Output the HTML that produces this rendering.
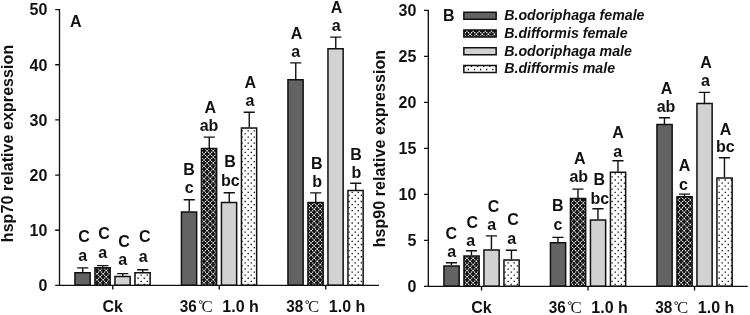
<!DOCTYPE html>
<html><head><meta charset="utf-8"><title>chart</title>
<style>html,body{margin:0;padding:0;background:#fff;}body{width:750px;height:315px;overflow:hidden;}svg{display:block;will-change:transform;}text{font-family:"Liberation Sans",sans-serif;font-weight:bold;font-size:16px;fill:#111;stroke:#111;stroke-width:0;}.lg{font-style:italic;font-size:14.2px;}.deg{font-family:"Liberation Serif",serif;font-weight:normal;font-size:16.8px;stroke-width:0;}</style></head><body>
<svg width="750" height="315" viewBox="0 0 750 315">
<defs>
<clipPath id="cx">
<rect x="94.95" y="267.70" width="15.20" height="17.50"/>
<rect x="201.45" y="148.50" width="15.20" height="136.70"/>
<rect x="307.95" y="202.50" width="15.20" height="82.70"/>
<rect x="463.95" y="256.10" width="15.20" height="30.10"/>
<rect x="570.45" y="198.40" width="15.20" height="87.80"/>
<rect x="676.95" y="196.70" width="15.20" height="89.50"/>
<rect x="463.85" y="29.90" width="32.30" height="7.20"/>
</clipPath>
<clipPath id="cd">
<rect x="134.95" y="272.70" width="15.20" height="12.50"/>
<rect x="241.45" y="128.00" width="15.20" height="157.20"/>
<rect x="347.95" y="190.50" width="15.20" height="94.70"/>
<rect x="503.95" y="260.10" width="15.20" height="26.10"/>
<rect x="610.45" y="172.20" width="15.20" height="114.00"/>
<rect x="716.95" y="178.00" width="15.20" height="108.20"/>
<rect x="463.85" y="65.40" width="32.30" height="7.20"/>
</clipPath>
</defs>
<path d="M82.75 272.20V267.90M77.15 267.90H88.35M102.75 267.20V265.60M97.15 265.60H108.35M122.75 276.00V273.60M117.15 273.60H128.35M142.75 272.20V269.70M137.15 269.70H148.35M189.25 211.50V199.70M183.65 199.70H194.85M209.25 148.00V137.10M203.65 137.10H214.85M229.25 202.00V192.80M223.65 192.80H234.85M249.25 127.50V112.30M243.65 112.30H254.85M295.75 79.30V62.90M290.15 62.90H301.35M315.75 202.00V192.90M310.15 192.90H321.35M335.75 48.20V37.10M330.15 37.10H341.35M355.75 190.00V183.30M350.15 183.30H361.35M451.45 265.50V262.80M445.85 262.80H457.05M471.45 255.60V250.80M465.85 250.80H477.05M491.45 249.50V235.90M485.85 235.90H497.05M511.45 259.60V250.30M505.85 250.30H517.05M557.95 242.20V237.40M552.35 237.40H563.55M577.95 197.90V189.10M572.35 189.10H583.55M597.95 219.50V208.80M592.35 208.80H603.55M617.95 171.70V160.80M612.35 160.80H623.55M664.45 124.10V117.70M658.85 117.70H670.05M684.45 196.20V194.10M678.85 194.10H690.05M704.45 103.10V92.40M698.85 92.40H710.05M724.45 177.50V157.70M718.85 157.70H730.05" stroke="#111" stroke-width="1.4" fill="none"/>
<rect x="74.95" y="272.70" width="15.20" height="12.50" fill="#636363"/>
<rect x="114.95" y="276.50" width="15.20" height="8.70" fill="#d2d2d2"/>
<rect x="181.45" y="212.00" width="15.20" height="73.20" fill="#636363"/>
<rect x="221.45" y="202.50" width="15.20" height="82.70" fill="#d2d2d2"/>
<rect x="287.95" y="79.80" width="15.20" height="205.40" fill="#636363"/>
<rect x="327.95" y="48.70" width="15.20" height="236.50" fill="#d2d2d2"/>
<rect x="443.95" y="266.00" width="15.20" height="20.20" fill="#636363"/>
<rect x="483.95" y="250.00" width="15.20" height="36.20" fill="#d2d2d2"/>
<rect x="550.45" y="242.70" width="15.20" height="43.50" fill="#636363"/>
<rect x="590.45" y="220.00" width="15.20" height="66.20" fill="#d2d2d2"/>
<rect x="656.95" y="124.60" width="15.20" height="161.60" fill="#636363"/>
<rect x="696.95" y="103.60" width="15.20" height="182.60" fill="#d2d2d2"/>
<rect x="463.85" y="12.15" width="32.30" height="7.20" fill="#636363"/>
<rect x="463.85" y="47.65" width="32.30" height="7.20" fill="#d2d2d2"/>
<g clip-path="url(#cx)">
<rect x="440" y="0" width="310" height="315" fill="#161616"/><rect x="60" y="100" width="330" height="200" fill="#161616"/>
<path fill="#fff" d="M88.82 262.38h1.05v1.05h-1.05zM88.82 265.45h1.05v1.05h-1.05zM88.82 268.52h1.05v1.05h-1.05zM88.82 271.59h1.05v1.05h-1.05zM88.82 274.66h1.05v1.05h-1.05zM88.82 277.73h1.05v1.05h-1.05zM88.82 280.8h1.05v1.05h-1.05zM88.82 283.87h1.05v1.05h-1.05zM88.82 286.94h1.05v1.05h-1.05zM88.82 290h1.05v1.05h-1.05zM91.88 262.38h1.05v1.05h-1.05zM91.88 265.45h1.05v1.05h-1.05zM91.88 268.52h1.05v1.05h-1.05zM91.88 271.59h1.05v1.05h-1.05zM91.88 274.66h1.05v1.05h-1.05zM91.88 277.73h1.05v1.05h-1.05zM91.88 280.8h1.05v1.05h-1.05zM91.88 283.87h1.05v1.05h-1.05zM91.88 286.94h1.05v1.05h-1.05zM91.88 290h1.05v1.05h-1.05zM94.94 262.38h1.05v1.05h-1.05zM94.94 265.45h1.05v1.05h-1.05zM94.94 268.52h1.05v1.05h-1.05zM94.94 271.59h1.05v1.05h-1.05zM94.94 274.66h1.05v1.05h-1.05zM94.94 277.73h1.05v1.05h-1.05zM94.94 280.8h1.05v1.05h-1.05zM94.94 283.87h1.05v1.05h-1.05zM94.94 286.94h1.05v1.05h-1.05zM94.94 290h1.05v1.05h-1.05zM98 262.38h1.05v1.05h-1.05zM98 265.45h1.05v1.05h-1.05zM98 268.52h1.05v1.05h-1.05zM98 271.59h1.05v1.05h-1.05zM98 274.66h1.05v1.05h-1.05zM98 277.73h1.05v1.05h-1.05zM98 280.8h1.05v1.05h-1.05zM98 283.87h1.05v1.05h-1.05zM98 286.94h1.05v1.05h-1.05zM98 290h1.05v1.05h-1.05zM101.06 262.38h1.05v1.05h-1.05zM101.06 265.45h1.05v1.05h-1.05zM101.06 268.52h1.05v1.05h-1.05zM101.06 271.59h1.05v1.05h-1.05zM101.06 274.66h1.05v1.05h-1.05zM101.06 277.73h1.05v1.05h-1.05zM101.06 280.8h1.05v1.05h-1.05zM101.06 283.87h1.05v1.05h-1.05zM101.06 286.94h1.05v1.05h-1.05zM101.06 290h1.05v1.05h-1.05zM104.11 262.38h1.05v1.05h-1.05zM104.11 265.45h1.05v1.05h-1.05zM104.11 268.52h1.05v1.05h-1.05zM104.11 271.59h1.05v1.05h-1.05zM104.11 274.66h1.05v1.05h-1.05zM104.11 277.73h1.05v1.05h-1.05zM104.11 280.8h1.05v1.05h-1.05zM104.11 283.87h1.05v1.05h-1.05zM104.11 286.94h1.05v1.05h-1.05zM104.11 290h1.05v1.05h-1.05zM107.17 262.38h1.05v1.05h-1.05zM107.17 265.45h1.05v1.05h-1.05zM107.17 268.52h1.05v1.05h-1.05zM107.17 271.59h1.05v1.05h-1.05zM107.17 274.66h1.05v1.05h-1.05zM107.17 277.73h1.05v1.05h-1.05zM107.17 280.8h1.05v1.05h-1.05zM107.17 283.87h1.05v1.05h-1.05zM107.17 286.94h1.05v1.05h-1.05zM107.17 290h1.05v1.05h-1.05zM110.23 262.38h1.05v1.05h-1.05zM110.23 265.45h1.05v1.05h-1.05zM110.23 268.52h1.05v1.05h-1.05zM110.23 271.59h1.05v1.05h-1.05zM110.23 274.66h1.05v1.05h-1.05zM110.23 277.73h1.05v1.05h-1.05zM110.23 280.8h1.05v1.05h-1.05zM110.23 283.87h1.05v1.05h-1.05zM110.23 286.94h1.05v1.05h-1.05zM110.23 290h1.05v1.05h-1.05zM113.29 262.38h1.05v1.05h-1.05zM113.29 265.45h1.05v1.05h-1.05zM113.29 268.52h1.05v1.05h-1.05zM113.29 271.59h1.05v1.05h-1.05zM113.29 274.66h1.05v1.05h-1.05zM113.29 277.73h1.05v1.05h-1.05zM113.29 280.8h1.05v1.05h-1.05zM113.29 283.87h1.05v1.05h-1.05zM113.29 286.94h1.05v1.05h-1.05zM113.29 290h1.05v1.05h-1.05zM195.85 142.64h1.05v1.05h-1.05zM195.85 145.72h1.05v1.05h-1.05zM195.85 148.78h1.05v1.05h-1.05zM195.85 151.85h1.05v1.05h-1.05zM195.85 154.92h1.05v1.05h-1.05zM195.85 158h1.05v1.05h-1.05zM195.85 161.06h1.05v1.05h-1.05zM195.85 164.13h1.05v1.05h-1.05zM195.85 167.2h1.05v1.05h-1.05zM195.85 170.28h1.05v1.05h-1.05zM195.85 173.34h1.05v1.05h-1.05zM195.85 176.41h1.05v1.05h-1.05zM195.85 179.48h1.05v1.05h-1.05zM195.85 182.56h1.05v1.05h-1.05zM195.85 185.62h1.05v1.05h-1.05zM195.85 188.69h1.05v1.05h-1.05zM195.85 191.76h1.05v1.05h-1.05zM195.85 194.84h1.05v1.05h-1.05zM195.85 197.91h1.05v1.05h-1.05zM195.85 200.97h1.05v1.05h-1.05zM195.85 204.04h1.05v1.05h-1.05zM195.85 207.11h1.05v1.05h-1.05zM195.85 210.19h1.05v1.05h-1.05zM195.85 213.25h1.05v1.05h-1.05zM195.85 216.32h1.05v1.05h-1.05zM195.85 219.39h1.05v1.05h-1.05zM195.85 222.47h1.05v1.05h-1.05zM195.85 225.53h1.05v1.05h-1.05zM195.85 228.6h1.05v1.05h-1.05zM195.85 231.67h1.05v1.05h-1.05zM195.85 234.75h1.05v1.05h-1.05zM195.85 237.81h1.05v1.05h-1.05zM195.85 240.88h1.05v1.05h-1.05zM195.85 243.95h1.05v1.05h-1.05zM195.85 247.03h1.05v1.05h-1.05zM195.85 250.09h1.05v1.05h-1.05zM195.85 253.16h1.05v1.05h-1.05zM195.85 256.24h1.05v1.05h-1.05zM195.85 259.31h1.05v1.05h-1.05zM195.85 262.38h1.05v1.05h-1.05zM195.85 265.45h1.05v1.05h-1.05zM195.85 268.52h1.05v1.05h-1.05zM195.85 271.59h1.05v1.05h-1.05zM195.85 274.66h1.05v1.05h-1.05zM195.85 277.73h1.05v1.05h-1.05zM195.85 280.8h1.05v1.05h-1.05zM195.85 283.87h1.05v1.05h-1.05zM195.85 286.94h1.05v1.05h-1.05zM195.85 290h1.05v1.05h-1.05zM198.91 142.64h1.05v1.05h-1.05zM198.91 145.72h1.05v1.05h-1.05zM198.91 148.78h1.05v1.05h-1.05zM198.91 151.85h1.05v1.05h-1.05zM198.91 154.92h1.05v1.05h-1.05zM198.91 158h1.05v1.05h-1.05zM198.91 161.06h1.05v1.05h-1.05zM198.91 164.13h1.05v1.05h-1.05zM198.91 167.2h1.05v1.05h-1.05zM198.91 170.28h1.05v1.05h-1.05zM198.91 173.34h1.05v1.05h-1.05zM198.91 176.41h1.05v1.05h-1.05zM198.91 179.48h1.05v1.05h-1.05zM198.91 182.56h1.05v1.05h-1.05zM198.91 185.62h1.05v1.05h-1.05zM198.91 188.69h1.05v1.05h-1.05zM198.91 191.76h1.05v1.05h-1.05zM198.91 194.84h1.05v1.05h-1.05zM198.91 197.91h1.05v1.05h-1.05zM198.91 200.97h1.05v1.05h-1.05zM198.91 204.04h1.05v1.05h-1.05zM198.91 207.11h1.05v1.05h-1.05zM198.91 210.19h1.05v1.05h-1.05zM198.91 213.25h1.05v1.05h-1.05zM198.91 216.32h1.05v1.05h-1.05zM198.91 219.39h1.05v1.05h-1.05zM198.91 222.47h1.05v1.05h-1.05zM198.91 225.53h1.05v1.05h-1.05zM198.91 228.6h1.05v1.05h-1.05zM198.91 231.67h1.05v1.05h-1.05zM198.91 234.75h1.05v1.05h-1.05zM198.91 237.81h1.05v1.05h-1.05zM198.91 240.88h1.05v1.05h-1.05zM198.91 243.95h1.05v1.05h-1.05zM198.91 247.03h1.05v1.05h-1.05zM198.91 250.09h1.05v1.05h-1.05zM198.91 253.16h1.05v1.05h-1.05zM198.91 256.24h1.05v1.05h-1.05zM198.91 259.31h1.05v1.05h-1.05zM198.91 262.38h1.05v1.05h-1.05zM198.91 265.45h1.05v1.05h-1.05zM198.91 268.52h1.05v1.05h-1.05zM198.91 271.59h1.05v1.05h-1.05zM198.91 274.66h1.05v1.05h-1.05zM198.91 277.73h1.05v1.05h-1.05zM198.91 280.8h1.05v1.05h-1.05zM198.91 283.87h1.05v1.05h-1.05zM198.91 286.94h1.05v1.05h-1.05zM198.91 290h1.05v1.05h-1.05zM201.97 142.64h1.05v1.05h-1.05zM201.97 145.72h1.05v1.05h-1.05zM201.97 148.78h1.05v1.05h-1.05zM201.97 151.85h1.05v1.05h-1.05zM201.97 154.92h1.05v1.05h-1.05zM201.97 158h1.05v1.05h-1.05zM201.97 161.06h1.05v1.05h-1.05zM201.97 164.13h1.05v1.05h-1.05zM201.97 167.2h1.05v1.05h-1.05zM201.97 170.28h1.05v1.05h-1.05zM201.97 173.34h1.05v1.05h-1.05zM201.97 176.41h1.05v1.05h-1.05zM201.97 179.48h1.05v1.05h-1.05zM201.97 182.56h1.05v1.05h-1.05zM201.97 185.62h1.05v1.05h-1.05zM201.97 188.69h1.05v1.05h-1.05zM201.97 191.76h1.05v1.05h-1.05zM201.97 194.84h1.05v1.05h-1.05zM201.97 197.91h1.05v1.05h-1.05zM201.97 200.97h1.05v1.05h-1.05zM201.97 204.04h1.05v1.05h-1.05zM201.97 207.11h1.05v1.05h-1.05zM201.97 210.19h1.05v1.05h-1.05zM201.97 213.25h1.05v1.05h-1.05zM201.97 216.32h1.05v1.05h-1.05zM201.97 219.39h1.05v1.05h-1.05zM201.97 222.47h1.05v1.05h-1.05zM201.97 225.53h1.05v1.05h-1.05zM201.97 228.6h1.05v1.05h-1.05zM201.97 231.67h1.05v1.05h-1.05zM201.97 234.75h1.05v1.05h-1.05zM201.97 237.81h1.05v1.05h-1.05zM201.97 240.88h1.05v1.05h-1.05zM201.97 243.95h1.05v1.05h-1.05zM201.97 247.03h1.05v1.05h-1.05zM201.97 250.09h1.05v1.05h-1.05zM201.97 253.16h1.05v1.05h-1.05zM201.97 256.24h1.05v1.05h-1.05zM201.97 259.31h1.05v1.05h-1.05zM201.97 262.38h1.05v1.05h-1.05zM201.97 265.45h1.05v1.05h-1.05zM201.97 268.52h1.05v1.05h-1.05zM201.97 271.59h1.05v1.05h-1.05zM201.97 274.66h1.05v1.05h-1.05zM201.97 277.73h1.05v1.05h-1.05zM201.97 280.8h1.05v1.05h-1.05zM201.97 283.87h1.05v1.05h-1.05zM201.97 286.94h1.05v1.05h-1.05zM201.97 290h1.05v1.05h-1.05zM205.03 142.64h1.05v1.05h-1.05zM205.03 145.72h1.05v1.05h-1.05zM205.03 148.78h1.05v1.05h-1.05zM205.03 151.85h1.05v1.05h-1.05zM205.03 154.92h1.05v1.05h-1.05zM205.03 158h1.05v1.05h-1.05zM205.03 161.06h1.05v1.05h-1.05zM205.03 164.13h1.05v1.05h-1.05zM205.03 167.2h1.05v1.05h-1.05zM205.03 170.28h1.05v1.05h-1.05zM205.03 173.34h1.05v1.05h-1.05zM205.03 176.41h1.05v1.05h-1.05zM205.03 179.48h1.05v1.05h-1.05zM205.03 182.56h1.05v1.05h-1.05zM205.03 185.62h1.05v1.05h-1.05zM205.03 188.69h1.05v1.05h-1.05zM205.03 191.76h1.05v1.05h-1.05zM205.03 194.84h1.05v1.05h-1.05zM205.03 197.91h1.05v1.05h-1.05zM205.03 200.97h1.05v1.05h-1.05zM205.03 204.04h1.05v1.05h-1.05zM205.03 207.11h1.05v1.05h-1.05zM205.03 210.19h1.05v1.05h-1.05zM205.03 213.25h1.05v1.05h-1.05zM205.03 216.32h1.05v1.05h-1.05zM205.03 219.39h1.05v1.05h-1.05zM205.03 222.47h1.05v1.05h-1.05zM205.03 225.53h1.05v1.05h-1.05zM205.03 228.6h1.05v1.05h-1.05zM205.03 231.67h1.05v1.05h-1.05zM205.03 234.75h1.05v1.05h-1.05zM205.03 237.81h1.05v1.05h-1.05zM205.03 240.88h1.05v1.05h-1.05zM205.03 243.95h1.05v1.05h-1.05zM205.03 247.03h1.05v1.05h-1.05zM205.03 250.09h1.05v1.05h-1.05zM205.03 253.16h1.05v1.05h-1.05zM205.03 256.24h1.05v1.05h-1.05zM205.03 259.31h1.05v1.05h-1.05zM205.03 262.38h1.05v1.05h-1.05zM205.03 265.45h1.05v1.05h-1.05zM205.03 268.52h1.05v1.05h-1.05zM205.03 271.59h1.05v1.05h-1.05zM205.03 274.66h1.05v1.05h-1.05zM205.03 277.73h1.05v1.05h-1.05zM205.03 280.8h1.05v1.05h-1.05zM205.03 283.87h1.05v1.05h-1.05zM205.03 286.94h1.05v1.05h-1.05zM205.03 290h1.05v1.05h-1.05zM208.09 142.64h1.05v1.05h-1.05zM208.09 145.72h1.05v1.05h-1.05zM208.09 148.78h1.05v1.05h-1.05zM208.09 151.85h1.05v1.05h-1.05zM208.09 154.92h1.05v1.05h-1.05zM208.09 158h1.05v1.05h-1.05zM208.09 161.06h1.05v1.05h-1.05zM208.09 164.13h1.05v1.05h-1.05zM208.09 167.2h1.05v1.05h-1.05zM208.09 170.28h1.05v1.05h-1.05zM208.09 173.34h1.05v1.05h-1.05zM208.09 176.41h1.05v1.05h-1.05zM208.09 179.48h1.05v1.05h-1.05zM208.09 182.56h1.05v1.05h-1.05zM208.09 185.62h1.05v1.05h-1.05zM208.09 188.69h1.05v1.05h-1.05zM208.09 191.76h1.05v1.05h-1.05zM208.09 194.84h1.05v1.05h-1.05zM208.09 197.91h1.05v1.05h-1.05zM208.09 200.97h1.05v1.05h-1.05zM208.09 204.04h1.05v1.05h-1.05zM208.09 207.11h1.05v1.05h-1.05zM208.09 210.19h1.05v1.05h-1.05zM208.09 213.25h1.05v1.05h-1.05zM208.09 216.32h1.05v1.05h-1.05zM208.09 219.39h1.05v1.05h-1.05zM208.09 222.47h1.05v1.05h-1.05zM208.09 225.53h1.05v1.05h-1.05zM208.09 228.6h1.05v1.05h-1.05zM208.09 231.67h1.05v1.05h-1.05zM208.09 234.75h1.05v1.05h-1.05zM208.09 237.81h1.05v1.05h-1.05zM208.09 240.88h1.05v1.05h-1.05zM208.09 243.95h1.05v1.05h-1.05zM208.09 247.03h1.05v1.05h-1.05zM208.09 250.09h1.05v1.05h-1.05zM208.09 253.16h1.05v1.05h-1.05zM208.09 256.24h1.05v1.05h-1.05zM208.09 259.31h1.05v1.05h-1.05zM208.09 262.38h1.05v1.05h-1.05zM208.09 265.45h1.05v1.05h-1.05zM208.09 268.52h1.05v1.05h-1.05zM208.09 271.59h1.05v1.05h-1.05zM208.09 274.66h1.05v1.05h-1.05zM208.09 277.73h1.05v1.05h-1.05zM208.09 280.8h1.05v1.05h-1.05zM208.09 283.87h1.05v1.05h-1.05zM208.09 286.94h1.05v1.05h-1.05zM208.09 290h1.05v1.05h-1.05zM211.14 142.64h1.05v1.05h-1.05zM211.14 145.72h1.05v1.05h-1.05zM211.14 148.78h1.05v1.05h-1.05zM211.14 151.85h1.05v1.05h-1.05zM211.14 154.92h1.05v1.05h-1.05zM211.14 158h1.05v1.05h-1.05zM211.14 161.06h1.05v1.05h-1.05zM211.14 164.13h1.05v1.05h-1.05zM211.14 167.2h1.05v1.05h-1.05zM211.14 170.28h1.05v1.05h-1.05zM211.14 173.34h1.05v1.05h-1.05zM211.14 176.41h1.05v1.05h-1.05zM211.14 179.48h1.05v1.05h-1.05zM211.14 182.56h1.05v1.05h-1.05zM211.14 185.62h1.05v1.05h-1.05zM211.14 188.69h1.05v1.05h-1.05zM211.14 191.76h1.05v1.05h-1.05zM211.14 194.84h1.05v1.05h-1.05zM211.14 197.91h1.05v1.05h-1.05zM211.14 200.97h1.05v1.05h-1.05zM211.14 204.04h1.05v1.05h-1.05zM211.14 207.11h1.05v1.05h-1.05zM211.14 210.19h1.05v1.05h-1.05zM211.14 213.25h1.05v1.05h-1.05zM211.14 216.32h1.05v1.05h-1.05zM211.14 219.39h1.05v1.05h-1.05zM211.14 222.47h1.05v1.05h-1.05zM211.14 225.53h1.05v1.05h-1.05zM211.14 228.6h1.05v1.05h-1.05zM211.14 231.67h1.05v1.05h-1.05zM211.14 234.75h1.05v1.05h-1.05zM211.14 237.81h1.05v1.05h-1.05zM211.14 240.88h1.05v1.05h-1.05zM211.14 243.95h1.05v1.05h-1.05zM211.14 247.03h1.05v1.05h-1.05zM211.14 250.09h1.05v1.05h-1.05zM211.14 253.16h1.05v1.05h-1.05zM211.14 256.24h1.05v1.05h-1.05zM211.14 259.31h1.05v1.05h-1.05zM211.14 262.38h1.05v1.05h-1.05zM211.14 265.45h1.05v1.05h-1.05zM211.14 268.52h1.05v1.05h-1.05zM211.14 271.59h1.05v1.05h-1.05zM211.14 274.66h1.05v1.05h-1.05zM211.14 277.73h1.05v1.05h-1.05zM211.14 280.8h1.05v1.05h-1.05zM211.14 283.87h1.05v1.05h-1.05zM211.14 286.94h1.05v1.05h-1.05zM211.14 290h1.05v1.05h-1.05zM214.2 142.64h1.05v1.05h-1.05zM214.2 145.72h1.05v1.05h-1.05zM214.2 148.78h1.05v1.05h-1.05zM214.2 151.85h1.05v1.05h-1.05zM214.2 154.92h1.05v1.05h-1.05zM214.2 158h1.05v1.05h-1.05zM214.2 161.06h1.05v1.05h-1.05zM214.2 164.13h1.05v1.05h-1.05zM214.2 167.2h1.05v1.05h-1.05zM214.2 170.28h1.05v1.05h-1.05zM214.2 173.34h1.05v1.05h-1.05zM214.2 176.41h1.05v1.05h-1.05zM214.2 179.48h1.05v1.05h-1.05zM214.2 182.56h1.05v1.05h-1.05zM214.2 185.62h1.05v1.05h-1.05zM214.2 188.69h1.05v1.05h-1.05zM214.2 191.76h1.05v1.05h-1.05zM214.2 194.84h1.05v1.05h-1.05zM214.2 197.91h1.05v1.05h-1.05zM214.2 200.97h1.05v1.05h-1.05zM214.2 204.04h1.05v1.05h-1.05zM214.2 207.11h1.05v1.05h-1.05zM214.2 210.19h1.05v1.05h-1.05zM214.2 213.25h1.05v1.05h-1.05zM214.2 216.32h1.05v1.05h-1.05zM214.2 219.39h1.05v1.05h-1.05zM214.2 222.47h1.05v1.05h-1.05zM214.2 225.53h1.05v1.05h-1.05zM214.2 228.6h1.05v1.05h-1.05zM214.2 231.67h1.05v1.05h-1.05zM214.2 234.75h1.05v1.05h-1.05zM214.2 237.81h1.05v1.05h-1.05zM214.2 240.88h1.05v1.05h-1.05zM214.2 243.95h1.05v1.05h-1.05zM214.2 247.03h1.05v1.05h-1.05zM214.2 250.09h1.05v1.05h-1.05zM214.2 253.16h1.05v1.05h-1.05zM214.2 256.24h1.05v1.05h-1.05zM214.2 259.31h1.05v1.05h-1.05zM214.2 262.38h1.05v1.05h-1.05zM214.2 265.45h1.05v1.05h-1.05zM214.2 268.52h1.05v1.05h-1.05zM214.2 271.59h1.05v1.05h-1.05zM214.2 274.66h1.05v1.05h-1.05zM214.2 277.73h1.05v1.05h-1.05zM214.2 280.8h1.05v1.05h-1.05zM214.2 283.87h1.05v1.05h-1.05zM214.2 286.94h1.05v1.05h-1.05zM214.2 290h1.05v1.05h-1.05zM217.26 142.64h1.05v1.05h-1.05zM217.26 145.72h1.05v1.05h-1.05zM217.26 148.78h1.05v1.05h-1.05zM217.26 151.85h1.05v1.05h-1.05zM217.26 154.92h1.05v1.05h-1.05zM217.26 158h1.05v1.05h-1.05zM217.26 161.06h1.05v1.05h-1.05zM217.26 164.13h1.05v1.05h-1.05zM217.26 167.2h1.05v1.05h-1.05zM217.26 170.28h1.05v1.05h-1.05zM217.26 173.34h1.05v1.05h-1.05zM217.26 176.41h1.05v1.05h-1.05zM217.26 179.48h1.05v1.05h-1.05zM217.26 182.56h1.05v1.05h-1.05zM217.26 185.62h1.05v1.05h-1.05zM217.26 188.69h1.05v1.05h-1.05zM217.26 191.76h1.05v1.05h-1.05zM217.26 194.84h1.05v1.05h-1.05zM217.26 197.91h1.05v1.05h-1.05zM217.26 200.97h1.05v1.05h-1.05zM217.26 204.04h1.05v1.05h-1.05zM217.26 207.11h1.05v1.05h-1.05zM217.26 210.19h1.05v1.05h-1.05zM217.26 213.25h1.05v1.05h-1.05zM217.26 216.32h1.05v1.05h-1.05zM217.26 219.39h1.05v1.05h-1.05zM217.26 222.47h1.05v1.05h-1.05zM217.26 225.53h1.05v1.05h-1.05zM217.26 228.6h1.05v1.05h-1.05zM217.26 231.67h1.05v1.05h-1.05zM217.26 234.75h1.05v1.05h-1.05zM217.26 237.81h1.05v1.05h-1.05zM217.26 240.88h1.05v1.05h-1.05zM217.26 243.95h1.05v1.05h-1.05zM217.26 247.03h1.05v1.05h-1.05zM217.26 250.09h1.05v1.05h-1.05zM217.26 253.16h1.05v1.05h-1.05zM217.26 256.24h1.05v1.05h-1.05zM217.26 259.31h1.05v1.05h-1.05zM217.26 262.38h1.05v1.05h-1.05zM217.26 265.45h1.05v1.05h-1.05zM217.26 268.52h1.05v1.05h-1.05zM217.26 271.59h1.05v1.05h-1.05zM217.26 274.66h1.05v1.05h-1.05zM217.26 277.73h1.05v1.05h-1.05zM217.26 280.8h1.05v1.05h-1.05zM217.26 283.87h1.05v1.05h-1.05zM217.26 286.94h1.05v1.05h-1.05zM217.26 290h1.05v1.05h-1.05zM220.32 142.64h1.05v1.05h-1.05zM220.32 145.72h1.05v1.05h-1.05zM220.32 148.78h1.05v1.05h-1.05zM220.32 151.85h1.05v1.05h-1.05zM220.32 154.92h1.05v1.05h-1.05zM220.32 158h1.05v1.05h-1.05zM220.32 161.06h1.05v1.05h-1.05zM220.32 164.13h1.05v1.05h-1.05zM220.32 167.2h1.05v1.05h-1.05zM220.32 170.28h1.05v1.05h-1.05zM220.32 173.34h1.05v1.05h-1.05zM220.32 176.41h1.05v1.05h-1.05zM220.32 179.48h1.05v1.05h-1.05zM220.32 182.56h1.05v1.05h-1.05zM220.32 185.62h1.05v1.05h-1.05zM220.32 188.69h1.05v1.05h-1.05zM220.32 191.76h1.05v1.05h-1.05zM220.32 194.84h1.05v1.05h-1.05zM220.32 197.91h1.05v1.05h-1.05zM220.32 200.97h1.05v1.05h-1.05zM220.32 204.04h1.05v1.05h-1.05zM220.32 207.11h1.05v1.05h-1.05zM220.32 210.19h1.05v1.05h-1.05zM220.32 213.25h1.05v1.05h-1.05zM220.32 216.32h1.05v1.05h-1.05zM220.32 219.39h1.05v1.05h-1.05zM220.32 222.47h1.05v1.05h-1.05zM220.32 225.53h1.05v1.05h-1.05zM220.32 228.6h1.05v1.05h-1.05zM220.32 231.67h1.05v1.05h-1.05zM220.32 234.75h1.05v1.05h-1.05zM220.32 237.81h1.05v1.05h-1.05zM220.32 240.88h1.05v1.05h-1.05zM220.32 243.95h1.05v1.05h-1.05zM220.32 247.03h1.05v1.05h-1.05zM220.32 250.09h1.05v1.05h-1.05zM220.32 253.16h1.05v1.05h-1.05zM220.32 256.24h1.05v1.05h-1.05zM220.32 259.31h1.05v1.05h-1.05zM220.32 262.38h1.05v1.05h-1.05zM220.32 265.45h1.05v1.05h-1.05zM220.32 268.52h1.05v1.05h-1.05zM220.32 271.59h1.05v1.05h-1.05zM220.32 274.66h1.05v1.05h-1.05zM220.32 277.73h1.05v1.05h-1.05zM220.32 280.8h1.05v1.05h-1.05zM220.32 283.87h1.05v1.05h-1.05zM220.32 286.94h1.05v1.05h-1.05zM220.32 290h1.05v1.05h-1.05zM302.89 197.91h1.05v1.05h-1.05zM302.89 200.97h1.05v1.05h-1.05zM302.89 204.04h1.05v1.05h-1.05zM302.89 207.11h1.05v1.05h-1.05zM302.89 210.19h1.05v1.05h-1.05zM302.89 213.25h1.05v1.05h-1.05zM302.89 216.32h1.05v1.05h-1.05zM302.89 219.39h1.05v1.05h-1.05zM302.89 222.47h1.05v1.05h-1.05zM302.89 225.53h1.05v1.05h-1.05zM302.89 228.6h1.05v1.05h-1.05zM302.89 231.67h1.05v1.05h-1.05zM302.89 234.75h1.05v1.05h-1.05zM302.89 237.81h1.05v1.05h-1.05zM302.89 240.88h1.05v1.05h-1.05zM302.89 243.95h1.05v1.05h-1.05zM302.89 247.03h1.05v1.05h-1.05zM302.89 250.09h1.05v1.05h-1.05zM302.89 253.16h1.05v1.05h-1.05zM302.89 256.24h1.05v1.05h-1.05zM302.89 259.31h1.05v1.05h-1.05zM302.89 262.38h1.05v1.05h-1.05zM302.89 265.45h1.05v1.05h-1.05zM302.89 268.52h1.05v1.05h-1.05zM302.89 271.59h1.05v1.05h-1.05zM302.89 274.66h1.05v1.05h-1.05zM302.89 277.73h1.05v1.05h-1.05zM302.89 280.8h1.05v1.05h-1.05zM302.89 283.87h1.05v1.05h-1.05zM302.89 286.94h1.05v1.05h-1.05zM302.89 290h1.05v1.05h-1.05zM305.95 197.91h1.05v1.05h-1.05zM305.95 200.97h1.05v1.05h-1.05zM305.95 204.04h1.05v1.05h-1.05zM305.95 207.11h1.05v1.05h-1.05zM305.95 210.19h1.05v1.05h-1.05zM305.95 213.25h1.05v1.05h-1.05zM305.95 216.32h1.05v1.05h-1.05zM305.95 219.39h1.05v1.05h-1.05zM305.95 222.47h1.05v1.05h-1.05zM305.95 225.53h1.05v1.05h-1.05zM305.95 228.6h1.05v1.05h-1.05zM305.95 231.67h1.05v1.05h-1.05zM305.95 234.75h1.05v1.05h-1.05zM305.95 237.81h1.05v1.05h-1.05zM305.95 240.88h1.05v1.05h-1.05zM305.95 243.95h1.05v1.05h-1.05zM305.95 247.03h1.05v1.05h-1.05zM305.95 250.09h1.05v1.05h-1.05zM305.95 253.16h1.05v1.05h-1.05zM305.95 256.24h1.05v1.05h-1.05zM305.95 259.31h1.05v1.05h-1.05zM305.95 262.38h1.05v1.05h-1.05zM305.95 265.45h1.05v1.05h-1.05zM305.95 268.52h1.05v1.05h-1.05zM305.95 271.59h1.05v1.05h-1.05zM305.95 274.66h1.05v1.05h-1.05zM305.95 277.73h1.05v1.05h-1.05zM305.95 280.8h1.05v1.05h-1.05zM305.95 283.87h1.05v1.05h-1.05zM305.95 286.94h1.05v1.05h-1.05zM305.95 290h1.05v1.05h-1.05zM309 197.91h1.05v1.05h-1.05zM309 200.97h1.05v1.05h-1.05zM309 204.04h1.05v1.05h-1.05zM309 207.11h1.05v1.05h-1.05zM309 210.19h1.05v1.05h-1.05zM309 213.25h1.05v1.05h-1.05zM309 216.32h1.05v1.05h-1.05zM309 219.39h1.05v1.05h-1.05zM309 222.47h1.05v1.05h-1.05zM309 225.53h1.05v1.05h-1.05zM309 228.6h1.05v1.05h-1.05zM309 231.67h1.05v1.05h-1.05zM309 234.75h1.05v1.05h-1.05zM309 237.81h1.05v1.05h-1.05zM309 240.88h1.05v1.05h-1.05zM309 243.95h1.05v1.05h-1.05zM309 247.03h1.05v1.05h-1.05zM309 250.09h1.05v1.05h-1.05zM309 253.16h1.05v1.05h-1.05zM309 256.24h1.05v1.05h-1.05zM309 259.31h1.05v1.05h-1.05zM309 262.38h1.05v1.05h-1.05zM309 265.45h1.05v1.05h-1.05zM309 268.52h1.05v1.05h-1.05zM309 271.59h1.05v1.05h-1.05zM309 274.66h1.05v1.05h-1.05zM309 277.73h1.05v1.05h-1.05zM309 280.8h1.05v1.05h-1.05zM309 283.87h1.05v1.05h-1.05zM309 286.94h1.05v1.05h-1.05zM309 290h1.05v1.05h-1.05zM312.06 197.91h1.05v1.05h-1.05zM312.06 200.97h1.05v1.05h-1.05zM312.06 204.04h1.05v1.05h-1.05zM312.06 207.11h1.05v1.05h-1.05zM312.06 210.19h1.05v1.05h-1.05zM312.06 213.25h1.05v1.05h-1.05zM312.06 216.32h1.05v1.05h-1.05zM312.06 219.39h1.05v1.05h-1.05zM312.06 222.47h1.05v1.05h-1.05zM312.06 225.53h1.05v1.05h-1.05zM312.06 228.6h1.05v1.05h-1.05zM312.06 231.67h1.05v1.05h-1.05zM312.06 234.75h1.05v1.05h-1.05zM312.06 237.81h1.05v1.05h-1.05zM312.06 240.88h1.05v1.05h-1.05zM312.06 243.95h1.05v1.05h-1.05zM312.06 247.03h1.05v1.05h-1.05zM312.06 250.09h1.05v1.05h-1.05zM312.06 253.16h1.05v1.05h-1.05zM312.06 256.24h1.05v1.05h-1.05zM312.06 259.31h1.05v1.05h-1.05zM312.06 262.38h1.05v1.05h-1.05zM312.06 265.45h1.05v1.05h-1.05zM312.06 268.52h1.05v1.05h-1.05zM312.06 271.59h1.05v1.05h-1.05zM312.06 274.66h1.05v1.05h-1.05zM312.06 277.73h1.05v1.05h-1.05zM312.06 280.8h1.05v1.05h-1.05zM312.06 283.87h1.05v1.05h-1.05zM312.06 286.94h1.05v1.05h-1.05zM312.06 290h1.05v1.05h-1.05zM315.12 197.91h1.05v1.05h-1.05zM315.12 200.97h1.05v1.05h-1.05zM315.12 204.04h1.05v1.05h-1.05zM315.12 207.11h1.05v1.05h-1.05zM315.12 210.19h1.05v1.05h-1.05zM315.12 213.25h1.05v1.05h-1.05zM315.12 216.32h1.05v1.05h-1.05zM315.12 219.39h1.05v1.05h-1.05zM315.12 222.47h1.05v1.05h-1.05zM315.12 225.53h1.05v1.05h-1.05zM315.12 228.6h1.05v1.05h-1.05zM315.12 231.67h1.05v1.05h-1.05zM315.12 234.75h1.05v1.05h-1.05zM315.12 237.81h1.05v1.05h-1.05zM315.12 240.88h1.05v1.05h-1.05zM315.12 243.95h1.05v1.05h-1.05zM315.12 247.03h1.05v1.05h-1.05zM315.12 250.09h1.05v1.05h-1.05zM315.12 253.16h1.05v1.05h-1.05zM315.12 256.24h1.05v1.05h-1.05zM315.12 259.31h1.05v1.05h-1.05zM315.12 262.38h1.05v1.05h-1.05zM315.12 265.45h1.05v1.05h-1.05zM315.12 268.52h1.05v1.05h-1.05zM315.12 271.59h1.05v1.05h-1.05zM315.12 274.66h1.05v1.05h-1.05zM315.12 277.73h1.05v1.05h-1.05zM315.12 280.8h1.05v1.05h-1.05zM315.12 283.87h1.05v1.05h-1.05zM315.12 286.94h1.05v1.05h-1.05zM315.12 290h1.05v1.05h-1.05zM318.18 197.91h1.05v1.05h-1.05zM318.18 200.97h1.05v1.05h-1.05zM318.18 204.04h1.05v1.05h-1.05zM318.18 207.11h1.05v1.05h-1.05zM318.18 210.19h1.05v1.05h-1.05zM318.18 213.25h1.05v1.05h-1.05zM318.18 216.32h1.05v1.05h-1.05zM318.18 219.39h1.05v1.05h-1.05zM318.18 222.47h1.05v1.05h-1.05zM318.18 225.53h1.05v1.05h-1.05zM318.18 228.6h1.05v1.05h-1.05zM318.18 231.67h1.05v1.05h-1.05zM318.18 234.75h1.05v1.05h-1.05zM318.18 237.81h1.05v1.05h-1.05zM318.18 240.88h1.05v1.05h-1.05zM318.18 243.95h1.05v1.05h-1.05zM318.18 247.03h1.05v1.05h-1.05zM318.18 250.09h1.05v1.05h-1.05zM318.18 253.16h1.05v1.05h-1.05zM318.18 256.24h1.05v1.05h-1.05zM318.18 259.31h1.05v1.05h-1.05zM318.18 262.38h1.05v1.05h-1.05zM318.18 265.45h1.05v1.05h-1.05zM318.18 268.52h1.05v1.05h-1.05zM318.18 271.59h1.05v1.05h-1.05zM318.18 274.66h1.05v1.05h-1.05zM318.18 277.73h1.05v1.05h-1.05zM318.18 280.8h1.05v1.05h-1.05zM318.18 283.87h1.05v1.05h-1.05zM318.18 286.94h1.05v1.05h-1.05zM318.18 290h1.05v1.05h-1.05zM321.24 197.91h1.05v1.05h-1.05zM321.24 200.97h1.05v1.05h-1.05zM321.24 204.04h1.05v1.05h-1.05zM321.24 207.11h1.05v1.05h-1.05zM321.24 210.19h1.05v1.05h-1.05zM321.24 213.25h1.05v1.05h-1.05zM321.24 216.32h1.05v1.05h-1.05zM321.24 219.39h1.05v1.05h-1.05zM321.24 222.47h1.05v1.05h-1.05zM321.24 225.53h1.05v1.05h-1.05zM321.24 228.6h1.05v1.05h-1.05zM321.24 231.67h1.05v1.05h-1.05zM321.24 234.75h1.05v1.05h-1.05zM321.24 237.81h1.05v1.05h-1.05zM321.24 240.88h1.05v1.05h-1.05zM321.24 243.95h1.05v1.05h-1.05zM321.24 247.03h1.05v1.05h-1.05zM321.24 250.09h1.05v1.05h-1.05zM321.24 253.16h1.05v1.05h-1.05zM321.24 256.24h1.05v1.05h-1.05zM321.24 259.31h1.05v1.05h-1.05zM321.24 262.38h1.05v1.05h-1.05zM321.24 265.45h1.05v1.05h-1.05zM321.24 268.52h1.05v1.05h-1.05zM321.24 271.59h1.05v1.05h-1.05zM321.24 274.66h1.05v1.05h-1.05zM321.24 277.73h1.05v1.05h-1.05zM321.24 280.8h1.05v1.05h-1.05zM321.24 283.87h1.05v1.05h-1.05zM321.24 286.94h1.05v1.05h-1.05zM321.24 290h1.05v1.05h-1.05zM324.3 197.91h1.05v1.05h-1.05zM324.3 200.97h1.05v1.05h-1.05zM324.3 204.04h1.05v1.05h-1.05zM324.3 207.11h1.05v1.05h-1.05zM324.3 210.19h1.05v1.05h-1.05zM324.3 213.25h1.05v1.05h-1.05zM324.3 216.32h1.05v1.05h-1.05zM324.3 219.39h1.05v1.05h-1.05zM324.3 222.47h1.05v1.05h-1.05zM324.3 225.53h1.05v1.05h-1.05zM324.3 228.6h1.05v1.05h-1.05zM324.3 231.67h1.05v1.05h-1.05zM324.3 234.75h1.05v1.05h-1.05zM324.3 237.81h1.05v1.05h-1.05zM324.3 240.88h1.05v1.05h-1.05zM324.3 243.95h1.05v1.05h-1.05zM324.3 247.03h1.05v1.05h-1.05zM324.3 250.09h1.05v1.05h-1.05zM324.3 253.16h1.05v1.05h-1.05zM324.3 256.24h1.05v1.05h-1.05zM324.3 259.31h1.05v1.05h-1.05zM324.3 262.38h1.05v1.05h-1.05zM324.3 265.45h1.05v1.05h-1.05zM324.3 268.52h1.05v1.05h-1.05zM324.3 271.59h1.05v1.05h-1.05zM324.3 274.66h1.05v1.05h-1.05zM324.3 277.73h1.05v1.05h-1.05zM324.3 280.8h1.05v1.05h-1.05zM324.3 283.87h1.05v1.05h-1.05zM324.3 286.94h1.05v1.05h-1.05zM324.3 290h1.05v1.05h-1.05zM327.36 197.91h1.05v1.05h-1.05zM327.36 200.97h1.05v1.05h-1.05zM327.36 204.04h1.05v1.05h-1.05zM327.36 207.11h1.05v1.05h-1.05zM327.36 210.19h1.05v1.05h-1.05zM327.36 213.25h1.05v1.05h-1.05zM327.36 216.32h1.05v1.05h-1.05zM327.36 219.39h1.05v1.05h-1.05zM327.36 222.47h1.05v1.05h-1.05zM327.36 225.53h1.05v1.05h-1.05zM327.36 228.6h1.05v1.05h-1.05zM327.36 231.67h1.05v1.05h-1.05zM327.36 234.75h1.05v1.05h-1.05zM327.36 237.81h1.05v1.05h-1.05zM327.36 240.88h1.05v1.05h-1.05zM327.36 243.95h1.05v1.05h-1.05zM327.36 247.03h1.05v1.05h-1.05zM327.36 250.09h1.05v1.05h-1.05zM327.36 253.16h1.05v1.05h-1.05zM327.36 256.24h1.05v1.05h-1.05zM327.36 259.31h1.05v1.05h-1.05zM327.36 262.38h1.05v1.05h-1.05zM327.36 265.45h1.05v1.05h-1.05zM327.36 268.52h1.05v1.05h-1.05zM327.36 271.59h1.05v1.05h-1.05zM327.36 274.66h1.05v1.05h-1.05zM327.36 277.73h1.05v1.05h-1.05zM327.36 280.8h1.05v1.05h-1.05zM327.36 283.87h1.05v1.05h-1.05zM327.36 286.94h1.05v1.05h-1.05zM327.36 290h1.05v1.05h-1.05zM458.85 25.99h1.05v1.05h-1.05zM458.85 29.05h1.05v1.05h-1.05zM458.85 32.12h1.05v1.05h-1.05zM458.85 35.2h1.05v1.05h-1.05zM458.85 38.27h1.05v1.05h-1.05zM458.85 41.34h1.05v1.05h-1.05zM458.85 250.09h1.05v1.05h-1.05zM458.85 253.16h1.05v1.05h-1.05zM458.85 256.24h1.05v1.05h-1.05zM458.85 259.31h1.05v1.05h-1.05zM458.85 262.38h1.05v1.05h-1.05zM458.85 265.45h1.05v1.05h-1.05zM458.85 268.52h1.05v1.05h-1.05zM458.85 271.59h1.05v1.05h-1.05zM458.85 274.66h1.05v1.05h-1.05zM458.85 277.73h1.05v1.05h-1.05zM458.85 280.8h1.05v1.05h-1.05zM458.85 283.87h1.05v1.05h-1.05zM458.85 286.94h1.05v1.05h-1.05zM458.85 290h1.05v1.05h-1.05zM461.91 25.99h1.05v1.05h-1.05zM461.91 29.05h1.05v1.05h-1.05zM461.91 32.12h1.05v1.05h-1.05zM461.91 35.2h1.05v1.05h-1.05zM461.91 38.27h1.05v1.05h-1.05zM461.91 41.34h1.05v1.05h-1.05zM461.91 250.09h1.05v1.05h-1.05zM461.91 253.16h1.05v1.05h-1.05zM461.91 256.24h1.05v1.05h-1.05zM461.91 259.31h1.05v1.05h-1.05zM461.91 262.38h1.05v1.05h-1.05zM461.91 265.45h1.05v1.05h-1.05zM461.91 268.52h1.05v1.05h-1.05zM461.91 271.59h1.05v1.05h-1.05zM461.91 274.66h1.05v1.05h-1.05zM461.91 277.73h1.05v1.05h-1.05zM461.91 280.8h1.05v1.05h-1.05zM461.91 283.87h1.05v1.05h-1.05zM461.91 286.94h1.05v1.05h-1.05zM461.91 290h1.05v1.05h-1.05zM464.97 25.99h1.05v1.05h-1.05zM464.97 29.05h1.05v1.05h-1.05zM464.97 32.12h1.05v1.05h-1.05zM464.97 35.2h1.05v1.05h-1.05zM464.97 38.27h1.05v1.05h-1.05zM464.97 41.34h1.05v1.05h-1.05zM464.97 250.09h1.05v1.05h-1.05zM464.97 253.16h1.05v1.05h-1.05zM464.97 256.24h1.05v1.05h-1.05zM464.97 259.31h1.05v1.05h-1.05zM464.97 262.38h1.05v1.05h-1.05zM464.97 265.45h1.05v1.05h-1.05zM464.97 268.52h1.05v1.05h-1.05zM464.97 271.59h1.05v1.05h-1.05zM464.97 274.66h1.05v1.05h-1.05zM464.97 277.73h1.05v1.05h-1.05zM464.97 280.8h1.05v1.05h-1.05zM464.97 283.87h1.05v1.05h-1.05zM464.97 286.94h1.05v1.05h-1.05zM464.97 290h1.05v1.05h-1.05zM468.03 25.99h1.05v1.05h-1.05zM468.03 29.05h1.05v1.05h-1.05zM468.03 32.12h1.05v1.05h-1.05zM468.03 35.2h1.05v1.05h-1.05zM468.03 38.27h1.05v1.05h-1.05zM468.03 41.34h1.05v1.05h-1.05zM468.03 250.09h1.05v1.05h-1.05zM468.03 253.16h1.05v1.05h-1.05zM468.03 256.24h1.05v1.05h-1.05zM468.03 259.31h1.05v1.05h-1.05zM468.03 262.38h1.05v1.05h-1.05zM468.03 265.45h1.05v1.05h-1.05zM468.03 268.52h1.05v1.05h-1.05zM468.03 271.59h1.05v1.05h-1.05zM468.03 274.66h1.05v1.05h-1.05zM468.03 277.73h1.05v1.05h-1.05zM468.03 280.8h1.05v1.05h-1.05zM468.03 283.87h1.05v1.05h-1.05zM468.03 286.94h1.05v1.05h-1.05zM468.03 290h1.05v1.05h-1.05zM471.08 25.99h1.05v1.05h-1.05zM471.08 29.05h1.05v1.05h-1.05zM471.08 32.12h1.05v1.05h-1.05zM471.08 35.2h1.05v1.05h-1.05zM471.08 38.27h1.05v1.05h-1.05zM471.08 41.34h1.05v1.05h-1.05zM471.08 250.09h1.05v1.05h-1.05zM471.08 253.16h1.05v1.05h-1.05zM471.08 256.24h1.05v1.05h-1.05zM471.08 259.31h1.05v1.05h-1.05zM471.08 262.38h1.05v1.05h-1.05zM471.08 265.45h1.05v1.05h-1.05zM471.08 268.52h1.05v1.05h-1.05zM471.08 271.59h1.05v1.05h-1.05zM471.08 274.66h1.05v1.05h-1.05zM471.08 277.73h1.05v1.05h-1.05zM471.08 280.8h1.05v1.05h-1.05zM471.08 283.87h1.05v1.05h-1.05zM471.08 286.94h1.05v1.05h-1.05zM471.08 290h1.05v1.05h-1.05zM474.14 25.99h1.05v1.05h-1.05zM474.14 29.05h1.05v1.05h-1.05zM474.14 32.12h1.05v1.05h-1.05zM474.14 35.2h1.05v1.05h-1.05zM474.14 38.27h1.05v1.05h-1.05zM474.14 41.34h1.05v1.05h-1.05zM474.14 250.09h1.05v1.05h-1.05zM474.14 253.16h1.05v1.05h-1.05zM474.14 256.24h1.05v1.05h-1.05zM474.14 259.31h1.05v1.05h-1.05zM474.14 262.38h1.05v1.05h-1.05zM474.14 265.45h1.05v1.05h-1.05zM474.14 268.52h1.05v1.05h-1.05zM474.14 271.59h1.05v1.05h-1.05zM474.14 274.66h1.05v1.05h-1.05zM474.14 277.73h1.05v1.05h-1.05zM474.14 280.8h1.05v1.05h-1.05zM474.14 283.87h1.05v1.05h-1.05zM474.14 286.94h1.05v1.05h-1.05zM474.14 290h1.05v1.05h-1.05zM477.2 25.99h1.05v1.05h-1.05zM477.2 29.05h1.05v1.05h-1.05zM477.2 32.12h1.05v1.05h-1.05zM477.2 35.2h1.05v1.05h-1.05zM477.2 38.27h1.05v1.05h-1.05zM477.2 41.34h1.05v1.05h-1.05zM477.2 250.09h1.05v1.05h-1.05zM477.2 253.16h1.05v1.05h-1.05zM477.2 256.24h1.05v1.05h-1.05zM477.2 259.31h1.05v1.05h-1.05zM477.2 262.38h1.05v1.05h-1.05zM477.2 265.45h1.05v1.05h-1.05zM477.2 268.52h1.05v1.05h-1.05zM477.2 271.59h1.05v1.05h-1.05zM477.2 274.66h1.05v1.05h-1.05zM477.2 277.73h1.05v1.05h-1.05zM477.2 280.8h1.05v1.05h-1.05zM477.2 283.87h1.05v1.05h-1.05zM477.2 286.94h1.05v1.05h-1.05zM477.2 290h1.05v1.05h-1.05zM480.25 25.99h1.05v1.05h-1.05zM480.25 29.05h1.05v1.05h-1.05zM480.25 32.12h1.05v1.05h-1.05zM480.25 35.2h1.05v1.05h-1.05zM480.25 38.27h1.05v1.05h-1.05zM480.25 41.34h1.05v1.05h-1.05zM480.25 250.09h1.05v1.05h-1.05zM480.25 253.16h1.05v1.05h-1.05zM480.25 256.24h1.05v1.05h-1.05zM480.25 259.31h1.05v1.05h-1.05zM480.25 262.38h1.05v1.05h-1.05zM480.25 265.45h1.05v1.05h-1.05zM480.25 268.52h1.05v1.05h-1.05zM480.25 271.59h1.05v1.05h-1.05zM480.25 274.66h1.05v1.05h-1.05zM480.25 277.73h1.05v1.05h-1.05zM480.25 280.8h1.05v1.05h-1.05zM480.25 283.87h1.05v1.05h-1.05zM480.25 286.94h1.05v1.05h-1.05zM480.25 290h1.05v1.05h-1.05zM483.31 25.99h1.05v1.05h-1.05zM483.31 29.05h1.05v1.05h-1.05zM483.31 32.12h1.05v1.05h-1.05zM483.31 35.2h1.05v1.05h-1.05zM483.31 38.27h1.05v1.05h-1.05zM483.31 41.34h1.05v1.05h-1.05zM483.31 250.09h1.05v1.05h-1.05zM483.31 253.16h1.05v1.05h-1.05zM483.31 256.24h1.05v1.05h-1.05zM483.31 259.31h1.05v1.05h-1.05zM483.31 262.38h1.05v1.05h-1.05zM483.31 265.45h1.05v1.05h-1.05zM483.31 268.52h1.05v1.05h-1.05zM483.31 271.59h1.05v1.05h-1.05zM483.31 274.66h1.05v1.05h-1.05zM483.31 277.73h1.05v1.05h-1.05zM483.31 280.8h1.05v1.05h-1.05zM483.31 283.87h1.05v1.05h-1.05zM483.31 286.94h1.05v1.05h-1.05zM483.31 290h1.05v1.05h-1.05zM486.37 25.99h1.05v1.05h-1.05zM486.37 29.05h1.05v1.05h-1.05zM486.37 32.12h1.05v1.05h-1.05zM486.37 35.2h1.05v1.05h-1.05zM486.37 38.27h1.05v1.05h-1.05zM486.37 41.34h1.05v1.05h-1.05zM489.43 25.99h1.05v1.05h-1.05zM489.43 29.05h1.05v1.05h-1.05zM489.43 32.12h1.05v1.05h-1.05zM489.43 35.2h1.05v1.05h-1.05zM489.43 38.27h1.05v1.05h-1.05zM489.43 41.34h1.05v1.05h-1.05zM492.49 25.99h1.05v1.05h-1.05zM492.49 29.05h1.05v1.05h-1.05zM492.49 32.12h1.05v1.05h-1.05zM492.49 35.2h1.05v1.05h-1.05zM492.49 38.27h1.05v1.05h-1.05zM492.49 41.34h1.05v1.05h-1.05zM495.55 25.99h1.05v1.05h-1.05zM495.55 29.05h1.05v1.05h-1.05zM495.55 32.12h1.05v1.05h-1.05zM495.55 35.2h1.05v1.05h-1.05zM495.55 38.27h1.05v1.05h-1.05zM495.55 41.34h1.05v1.05h-1.05zM498.61 25.99h1.05v1.05h-1.05zM498.61 29.05h1.05v1.05h-1.05zM498.61 32.12h1.05v1.05h-1.05zM498.61 35.2h1.05v1.05h-1.05zM498.61 38.27h1.05v1.05h-1.05zM498.61 41.34h1.05v1.05h-1.05zM501.66 25.99h1.05v1.05h-1.05zM501.66 29.05h1.05v1.05h-1.05zM501.66 32.12h1.05v1.05h-1.05zM501.66 35.2h1.05v1.05h-1.05zM501.66 38.27h1.05v1.05h-1.05zM501.66 41.34h1.05v1.05h-1.05zM565.88 194.84h1.05v1.05h-1.05zM565.88 197.91h1.05v1.05h-1.05zM565.88 200.97h1.05v1.05h-1.05zM565.88 204.04h1.05v1.05h-1.05zM565.88 207.11h1.05v1.05h-1.05zM565.88 210.19h1.05v1.05h-1.05zM565.88 213.25h1.05v1.05h-1.05zM565.88 216.32h1.05v1.05h-1.05zM565.88 219.39h1.05v1.05h-1.05zM565.88 222.47h1.05v1.05h-1.05zM565.88 225.53h1.05v1.05h-1.05zM565.88 228.6h1.05v1.05h-1.05zM565.88 231.67h1.05v1.05h-1.05zM565.88 234.75h1.05v1.05h-1.05zM565.88 237.81h1.05v1.05h-1.05zM565.88 240.88h1.05v1.05h-1.05zM565.88 243.95h1.05v1.05h-1.05zM565.88 247.03h1.05v1.05h-1.05zM565.88 250.09h1.05v1.05h-1.05zM565.88 253.16h1.05v1.05h-1.05zM565.88 256.24h1.05v1.05h-1.05zM565.88 259.31h1.05v1.05h-1.05zM565.88 262.38h1.05v1.05h-1.05zM565.88 265.45h1.05v1.05h-1.05zM565.88 268.52h1.05v1.05h-1.05zM565.88 271.59h1.05v1.05h-1.05zM565.88 274.66h1.05v1.05h-1.05zM565.88 277.73h1.05v1.05h-1.05zM565.88 280.8h1.05v1.05h-1.05zM565.88 283.87h1.05v1.05h-1.05zM565.88 286.94h1.05v1.05h-1.05zM565.88 290h1.05v1.05h-1.05zM568.94 194.84h1.05v1.05h-1.05zM568.94 197.91h1.05v1.05h-1.05zM568.94 200.97h1.05v1.05h-1.05zM568.94 204.04h1.05v1.05h-1.05zM568.94 207.11h1.05v1.05h-1.05zM568.94 210.19h1.05v1.05h-1.05zM568.94 213.25h1.05v1.05h-1.05zM568.94 216.32h1.05v1.05h-1.05zM568.94 219.39h1.05v1.05h-1.05zM568.94 222.47h1.05v1.05h-1.05zM568.94 225.53h1.05v1.05h-1.05zM568.94 228.6h1.05v1.05h-1.05zM568.94 231.67h1.05v1.05h-1.05zM568.94 234.75h1.05v1.05h-1.05zM568.94 237.81h1.05v1.05h-1.05zM568.94 240.88h1.05v1.05h-1.05zM568.94 243.95h1.05v1.05h-1.05zM568.94 247.03h1.05v1.05h-1.05zM568.94 250.09h1.05v1.05h-1.05zM568.94 253.16h1.05v1.05h-1.05zM568.94 256.24h1.05v1.05h-1.05zM568.94 259.31h1.05v1.05h-1.05zM568.94 262.38h1.05v1.05h-1.05zM568.94 265.45h1.05v1.05h-1.05zM568.94 268.52h1.05v1.05h-1.05zM568.94 271.59h1.05v1.05h-1.05zM568.94 274.66h1.05v1.05h-1.05zM568.94 277.73h1.05v1.05h-1.05zM568.94 280.8h1.05v1.05h-1.05zM568.94 283.87h1.05v1.05h-1.05zM568.94 286.94h1.05v1.05h-1.05zM568.94 290h1.05v1.05h-1.05zM572 194.84h1.05v1.05h-1.05zM572 197.91h1.05v1.05h-1.05zM572 200.97h1.05v1.05h-1.05zM572 204.04h1.05v1.05h-1.05zM572 207.11h1.05v1.05h-1.05zM572 210.19h1.05v1.05h-1.05zM572 213.25h1.05v1.05h-1.05zM572 216.32h1.05v1.05h-1.05zM572 219.39h1.05v1.05h-1.05zM572 222.47h1.05v1.05h-1.05zM572 225.53h1.05v1.05h-1.05zM572 228.6h1.05v1.05h-1.05zM572 231.67h1.05v1.05h-1.05zM572 234.75h1.05v1.05h-1.05zM572 237.81h1.05v1.05h-1.05zM572 240.88h1.05v1.05h-1.05zM572 243.95h1.05v1.05h-1.05zM572 247.03h1.05v1.05h-1.05zM572 250.09h1.05v1.05h-1.05zM572 253.16h1.05v1.05h-1.05zM572 256.24h1.05v1.05h-1.05zM572 259.31h1.05v1.05h-1.05zM572 262.38h1.05v1.05h-1.05zM572 265.45h1.05v1.05h-1.05zM572 268.52h1.05v1.05h-1.05zM572 271.59h1.05v1.05h-1.05zM572 274.66h1.05v1.05h-1.05zM572 277.73h1.05v1.05h-1.05zM572 280.8h1.05v1.05h-1.05zM572 283.87h1.05v1.05h-1.05zM572 286.94h1.05v1.05h-1.05zM572 290h1.05v1.05h-1.05zM575.06 194.84h1.05v1.05h-1.05zM575.06 197.91h1.05v1.05h-1.05zM575.06 200.97h1.05v1.05h-1.05zM575.06 204.04h1.05v1.05h-1.05zM575.06 207.11h1.05v1.05h-1.05zM575.06 210.19h1.05v1.05h-1.05zM575.06 213.25h1.05v1.05h-1.05zM575.06 216.32h1.05v1.05h-1.05zM575.06 219.39h1.05v1.05h-1.05zM575.06 222.47h1.05v1.05h-1.05zM575.06 225.53h1.05v1.05h-1.05zM575.06 228.6h1.05v1.05h-1.05zM575.06 231.67h1.05v1.05h-1.05zM575.06 234.75h1.05v1.05h-1.05zM575.06 237.81h1.05v1.05h-1.05zM575.06 240.88h1.05v1.05h-1.05zM575.06 243.95h1.05v1.05h-1.05zM575.06 247.03h1.05v1.05h-1.05zM575.06 250.09h1.05v1.05h-1.05zM575.06 253.16h1.05v1.05h-1.05zM575.06 256.24h1.05v1.05h-1.05zM575.06 259.31h1.05v1.05h-1.05zM575.06 262.38h1.05v1.05h-1.05zM575.06 265.45h1.05v1.05h-1.05zM575.06 268.52h1.05v1.05h-1.05zM575.06 271.59h1.05v1.05h-1.05zM575.06 274.66h1.05v1.05h-1.05zM575.06 277.73h1.05v1.05h-1.05zM575.06 280.8h1.05v1.05h-1.05zM575.06 283.87h1.05v1.05h-1.05zM575.06 286.94h1.05v1.05h-1.05zM575.06 290h1.05v1.05h-1.05zM578.11 194.84h1.05v1.05h-1.05zM578.11 197.91h1.05v1.05h-1.05zM578.11 200.97h1.05v1.05h-1.05zM578.11 204.04h1.05v1.05h-1.05zM578.11 207.11h1.05v1.05h-1.05zM578.11 210.19h1.05v1.05h-1.05zM578.11 213.25h1.05v1.05h-1.05zM578.11 216.32h1.05v1.05h-1.05zM578.11 219.39h1.05v1.05h-1.05zM578.11 222.47h1.05v1.05h-1.05zM578.11 225.53h1.05v1.05h-1.05zM578.11 228.6h1.05v1.05h-1.05zM578.11 231.67h1.05v1.05h-1.05zM578.11 234.75h1.05v1.05h-1.05zM578.11 237.81h1.05v1.05h-1.05zM578.11 240.88h1.05v1.05h-1.05zM578.11 243.95h1.05v1.05h-1.05zM578.11 247.03h1.05v1.05h-1.05zM578.11 250.09h1.05v1.05h-1.05zM578.11 253.16h1.05v1.05h-1.05zM578.11 256.24h1.05v1.05h-1.05zM578.11 259.31h1.05v1.05h-1.05zM578.11 262.38h1.05v1.05h-1.05zM578.11 265.45h1.05v1.05h-1.05zM578.11 268.52h1.05v1.05h-1.05zM578.11 271.59h1.05v1.05h-1.05zM578.11 274.66h1.05v1.05h-1.05zM578.11 277.73h1.05v1.05h-1.05zM578.11 280.8h1.05v1.05h-1.05zM578.11 283.87h1.05v1.05h-1.05zM578.11 286.94h1.05v1.05h-1.05zM578.11 290h1.05v1.05h-1.05zM581.17 194.84h1.05v1.05h-1.05zM581.17 197.91h1.05v1.05h-1.05zM581.17 200.97h1.05v1.05h-1.05zM581.17 204.04h1.05v1.05h-1.05zM581.17 207.11h1.05v1.05h-1.05zM581.17 210.19h1.05v1.05h-1.05zM581.17 213.25h1.05v1.05h-1.05zM581.17 216.32h1.05v1.05h-1.05zM581.17 219.39h1.05v1.05h-1.05zM581.17 222.47h1.05v1.05h-1.05zM581.17 225.53h1.05v1.05h-1.05zM581.17 228.6h1.05v1.05h-1.05zM581.17 231.67h1.05v1.05h-1.05zM581.17 234.75h1.05v1.05h-1.05zM581.17 237.81h1.05v1.05h-1.05zM581.17 240.88h1.05v1.05h-1.05zM581.17 243.95h1.05v1.05h-1.05zM581.17 247.03h1.05v1.05h-1.05zM581.17 250.09h1.05v1.05h-1.05zM581.17 253.16h1.05v1.05h-1.05zM581.17 256.24h1.05v1.05h-1.05zM581.17 259.31h1.05v1.05h-1.05zM581.17 262.38h1.05v1.05h-1.05zM581.17 265.45h1.05v1.05h-1.05zM581.17 268.52h1.05v1.05h-1.05zM581.17 271.59h1.05v1.05h-1.05zM581.17 274.66h1.05v1.05h-1.05zM581.17 277.73h1.05v1.05h-1.05zM581.17 280.8h1.05v1.05h-1.05zM581.17 283.87h1.05v1.05h-1.05zM581.17 286.94h1.05v1.05h-1.05zM581.17 290h1.05v1.05h-1.05zM584.23 194.84h1.05v1.05h-1.05zM584.23 197.91h1.05v1.05h-1.05zM584.23 200.97h1.05v1.05h-1.05zM584.23 204.04h1.05v1.05h-1.05zM584.23 207.11h1.05v1.05h-1.05zM584.23 210.19h1.05v1.05h-1.05zM584.23 213.25h1.05v1.05h-1.05zM584.23 216.32h1.05v1.05h-1.05zM584.23 219.39h1.05v1.05h-1.05zM584.23 222.47h1.05v1.05h-1.05zM584.23 225.53h1.05v1.05h-1.05zM584.23 228.6h1.05v1.05h-1.05zM584.23 231.67h1.05v1.05h-1.05zM584.23 234.75h1.05v1.05h-1.05zM584.23 237.81h1.05v1.05h-1.05zM584.23 240.88h1.05v1.05h-1.05zM584.23 243.95h1.05v1.05h-1.05zM584.23 247.03h1.05v1.05h-1.05zM584.23 250.09h1.05v1.05h-1.05zM584.23 253.16h1.05v1.05h-1.05zM584.23 256.24h1.05v1.05h-1.05zM584.23 259.31h1.05v1.05h-1.05zM584.23 262.38h1.05v1.05h-1.05zM584.23 265.45h1.05v1.05h-1.05zM584.23 268.52h1.05v1.05h-1.05zM584.23 271.59h1.05v1.05h-1.05zM584.23 274.66h1.05v1.05h-1.05zM584.23 277.73h1.05v1.05h-1.05zM584.23 280.8h1.05v1.05h-1.05zM584.23 283.87h1.05v1.05h-1.05zM584.23 286.94h1.05v1.05h-1.05zM584.23 290h1.05v1.05h-1.05zM587.28 194.84h1.05v1.05h-1.05zM587.28 197.91h1.05v1.05h-1.05zM587.28 200.97h1.05v1.05h-1.05zM587.28 204.04h1.05v1.05h-1.05zM587.28 207.11h1.05v1.05h-1.05zM587.28 210.19h1.05v1.05h-1.05zM587.28 213.25h1.05v1.05h-1.05zM587.28 216.32h1.05v1.05h-1.05zM587.28 219.39h1.05v1.05h-1.05zM587.28 222.47h1.05v1.05h-1.05zM587.28 225.53h1.05v1.05h-1.05zM587.28 228.6h1.05v1.05h-1.05zM587.28 231.67h1.05v1.05h-1.05zM587.28 234.75h1.05v1.05h-1.05zM587.28 237.81h1.05v1.05h-1.05zM587.28 240.88h1.05v1.05h-1.05zM587.28 243.95h1.05v1.05h-1.05zM587.28 247.03h1.05v1.05h-1.05zM587.28 250.09h1.05v1.05h-1.05zM587.28 253.16h1.05v1.05h-1.05zM587.28 256.24h1.05v1.05h-1.05zM587.28 259.31h1.05v1.05h-1.05zM587.28 262.38h1.05v1.05h-1.05zM587.28 265.45h1.05v1.05h-1.05zM587.28 268.52h1.05v1.05h-1.05zM587.28 271.59h1.05v1.05h-1.05zM587.28 274.66h1.05v1.05h-1.05zM587.28 277.73h1.05v1.05h-1.05zM587.28 280.8h1.05v1.05h-1.05zM587.28 283.87h1.05v1.05h-1.05zM587.28 286.94h1.05v1.05h-1.05zM587.28 290h1.05v1.05h-1.05zM590.35 194.84h1.05v1.05h-1.05zM590.35 197.91h1.05v1.05h-1.05zM590.35 200.97h1.05v1.05h-1.05zM590.35 204.04h1.05v1.05h-1.05zM590.35 207.11h1.05v1.05h-1.05zM590.35 210.19h1.05v1.05h-1.05zM590.35 213.25h1.05v1.05h-1.05zM590.35 216.32h1.05v1.05h-1.05zM590.35 219.39h1.05v1.05h-1.05zM590.35 222.47h1.05v1.05h-1.05zM590.35 225.53h1.05v1.05h-1.05zM590.35 228.6h1.05v1.05h-1.05zM590.35 231.67h1.05v1.05h-1.05zM590.35 234.75h1.05v1.05h-1.05zM590.35 237.81h1.05v1.05h-1.05zM590.35 240.88h1.05v1.05h-1.05zM590.35 243.95h1.05v1.05h-1.05zM590.35 247.03h1.05v1.05h-1.05zM590.35 250.09h1.05v1.05h-1.05zM590.35 253.16h1.05v1.05h-1.05zM590.35 256.24h1.05v1.05h-1.05zM590.35 259.31h1.05v1.05h-1.05zM590.35 262.38h1.05v1.05h-1.05zM590.35 265.45h1.05v1.05h-1.05zM590.35 268.52h1.05v1.05h-1.05zM590.35 271.59h1.05v1.05h-1.05zM590.35 274.66h1.05v1.05h-1.05zM590.35 277.73h1.05v1.05h-1.05zM590.35 280.8h1.05v1.05h-1.05zM590.35 283.87h1.05v1.05h-1.05zM590.35 286.94h1.05v1.05h-1.05zM590.35 290h1.05v1.05h-1.05zM672.9 191.76h1.05v1.05h-1.05zM672.9 194.84h1.05v1.05h-1.05zM672.9 197.91h1.05v1.05h-1.05zM672.9 200.97h1.05v1.05h-1.05zM672.9 204.04h1.05v1.05h-1.05zM672.9 207.11h1.05v1.05h-1.05zM672.9 210.19h1.05v1.05h-1.05zM672.9 213.25h1.05v1.05h-1.05zM672.9 216.32h1.05v1.05h-1.05zM672.9 219.39h1.05v1.05h-1.05zM672.9 222.47h1.05v1.05h-1.05zM672.9 225.53h1.05v1.05h-1.05zM672.9 228.6h1.05v1.05h-1.05zM672.9 231.67h1.05v1.05h-1.05zM672.9 234.75h1.05v1.05h-1.05zM672.9 237.81h1.05v1.05h-1.05zM672.9 240.88h1.05v1.05h-1.05zM672.9 243.95h1.05v1.05h-1.05zM672.9 247.03h1.05v1.05h-1.05zM672.9 250.09h1.05v1.05h-1.05zM672.9 253.16h1.05v1.05h-1.05zM672.9 256.24h1.05v1.05h-1.05zM672.9 259.31h1.05v1.05h-1.05zM672.9 262.38h1.05v1.05h-1.05zM672.9 265.45h1.05v1.05h-1.05zM672.9 268.52h1.05v1.05h-1.05zM672.9 271.59h1.05v1.05h-1.05zM672.9 274.66h1.05v1.05h-1.05zM672.9 277.73h1.05v1.05h-1.05zM672.9 280.8h1.05v1.05h-1.05zM672.9 283.87h1.05v1.05h-1.05zM672.9 286.94h1.05v1.05h-1.05zM672.9 290h1.05v1.05h-1.05zM675.97 191.76h1.05v1.05h-1.05zM675.97 194.84h1.05v1.05h-1.05zM675.97 197.91h1.05v1.05h-1.05zM675.97 200.97h1.05v1.05h-1.05zM675.97 204.04h1.05v1.05h-1.05zM675.97 207.11h1.05v1.05h-1.05zM675.97 210.19h1.05v1.05h-1.05zM675.97 213.25h1.05v1.05h-1.05zM675.97 216.32h1.05v1.05h-1.05zM675.97 219.39h1.05v1.05h-1.05zM675.97 222.47h1.05v1.05h-1.05zM675.97 225.53h1.05v1.05h-1.05zM675.97 228.6h1.05v1.05h-1.05zM675.97 231.67h1.05v1.05h-1.05zM675.97 234.75h1.05v1.05h-1.05zM675.97 237.81h1.05v1.05h-1.05zM675.97 240.88h1.05v1.05h-1.05zM675.97 243.95h1.05v1.05h-1.05zM675.97 247.03h1.05v1.05h-1.05zM675.97 250.09h1.05v1.05h-1.05zM675.97 253.16h1.05v1.05h-1.05zM675.97 256.24h1.05v1.05h-1.05zM675.97 259.31h1.05v1.05h-1.05zM675.97 262.38h1.05v1.05h-1.05zM675.97 265.45h1.05v1.05h-1.05zM675.97 268.52h1.05v1.05h-1.05zM675.97 271.59h1.05v1.05h-1.05zM675.97 274.66h1.05v1.05h-1.05zM675.97 277.73h1.05v1.05h-1.05zM675.97 280.8h1.05v1.05h-1.05zM675.97 283.87h1.05v1.05h-1.05zM675.97 286.94h1.05v1.05h-1.05zM675.97 290h1.05v1.05h-1.05zM679.02 191.76h1.05v1.05h-1.05zM679.02 194.84h1.05v1.05h-1.05zM679.02 197.91h1.05v1.05h-1.05zM679.02 200.97h1.05v1.05h-1.05zM679.02 204.04h1.05v1.05h-1.05zM679.02 207.11h1.05v1.05h-1.05zM679.02 210.19h1.05v1.05h-1.05zM679.02 213.25h1.05v1.05h-1.05zM679.02 216.32h1.05v1.05h-1.05zM679.02 219.39h1.05v1.05h-1.05zM679.02 222.47h1.05v1.05h-1.05zM679.02 225.53h1.05v1.05h-1.05zM679.02 228.6h1.05v1.05h-1.05zM679.02 231.67h1.05v1.05h-1.05zM679.02 234.75h1.05v1.05h-1.05zM679.02 237.81h1.05v1.05h-1.05zM679.02 240.88h1.05v1.05h-1.05zM679.02 243.95h1.05v1.05h-1.05zM679.02 247.03h1.05v1.05h-1.05zM679.02 250.09h1.05v1.05h-1.05zM679.02 253.16h1.05v1.05h-1.05zM679.02 256.24h1.05v1.05h-1.05zM679.02 259.31h1.05v1.05h-1.05zM679.02 262.38h1.05v1.05h-1.05zM679.02 265.45h1.05v1.05h-1.05zM679.02 268.52h1.05v1.05h-1.05zM679.02 271.59h1.05v1.05h-1.05zM679.02 274.66h1.05v1.05h-1.05zM679.02 277.73h1.05v1.05h-1.05zM679.02 280.8h1.05v1.05h-1.05zM679.02 283.87h1.05v1.05h-1.05zM679.02 286.94h1.05v1.05h-1.05zM679.02 290h1.05v1.05h-1.05zM682.09 191.76h1.05v1.05h-1.05zM682.09 194.84h1.05v1.05h-1.05zM682.09 197.91h1.05v1.05h-1.05zM682.09 200.97h1.05v1.05h-1.05zM682.09 204.04h1.05v1.05h-1.05zM682.09 207.11h1.05v1.05h-1.05zM682.09 210.19h1.05v1.05h-1.05zM682.09 213.25h1.05v1.05h-1.05zM682.09 216.32h1.05v1.05h-1.05zM682.09 219.39h1.05v1.05h-1.05zM682.09 222.47h1.05v1.05h-1.05zM682.09 225.53h1.05v1.05h-1.05zM682.09 228.6h1.05v1.05h-1.05zM682.09 231.67h1.05v1.05h-1.05zM682.09 234.75h1.05v1.05h-1.05zM682.09 237.81h1.05v1.05h-1.05zM682.09 240.88h1.05v1.05h-1.05zM682.09 243.95h1.05v1.05h-1.05zM682.09 247.03h1.05v1.05h-1.05zM682.09 250.09h1.05v1.05h-1.05zM682.09 253.16h1.05v1.05h-1.05zM682.09 256.24h1.05v1.05h-1.05zM682.09 259.31h1.05v1.05h-1.05zM682.09 262.38h1.05v1.05h-1.05zM682.09 265.45h1.05v1.05h-1.05zM682.09 268.52h1.05v1.05h-1.05zM682.09 271.59h1.05v1.05h-1.05zM682.09 274.66h1.05v1.05h-1.05zM682.09 277.73h1.05v1.05h-1.05zM682.09 280.8h1.05v1.05h-1.05zM682.09 283.87h1.05v1.05h-1.05zM682.09 286.94h1.05v1.05h-1.05zM682.09 290h1.05v1.05h-1.05zM685.13 191.76h1.05v1.05h-1.05zM685.13 194.84h1.05v1.05h-1.05zM685.13 197.91h1.05v1.05h-1.05zM685.13 200.97h1.05v1.05h-1.05zM685.13 204.04h1.05v1.05h-1.05zM685.13 207.11h1.05v1.05h-1.05zM685.13 210.19h1.05v1.05h-1.05zM685.13 213.25h1.05v1.05h-1.05zM685.13 216.32h1.05v1.05h-1.05zM685.13 219.39h1.05v1.05h-1.05zM685.13 222.47h1.05v1.05h-1.05zM685.13 225.53h1.05v1.05h-1.05zM685.13 228.6h1.05v1.05h-1.05zM685.13 231.67h1.05v1.05h-1.05zM685.13 234.75h1.05v1.05h-1.05zM685.13 237.81h1.05v1.05h-1.05zM685.13 240.88h1.05v1.05h-1.05zM685.13 243.95h1.05v1.05h-1.05zM685.13 247.03h1.05v1.05h-1.05zM685.13 250.09h1.05v1.05h-1.05zM685.13 253.16h1.05v1.05h-1.05zM685.13 256.24h1.05v1.05h-1.05zM685.13 259.31h1.05v1.05h-1.05zM685.13 262.38h1.05v1.05h-1.05zM685.13 265.45h1.05v1.05h-1.05zM685.13 268.52h1.05v1.05h-1.05zM685.13 271.59h1.05v1.05h-1.05zM685.13 274.66h1.05v1.05h-1.05zM685.13 277.73h1.05v1.05h-1.05zM685.13 280.8h1.05v1.05h-1.05zM685.13 283.87h1.05v1.05h-1.05zM685.13 286.94h1.05v1.05h-1.05zM685.13 290h1.05v1.05h-1.05zM688.2 191.76h1.05v1.05h-1.05zM688.2 194.84h1.05v1.05h-1.05zM688.2 197.91h1.05v1.05h-1.05zM688.2 200.97h1.05v1.05h-1.05zM688.2 204.04h1.05v1.05h-1.05zM688.2 207.11h1.05v1.05h-1.05zM688.2 210.19h1.05v1.05h-1.05zM688.2 213.25h1.05v1.05h-1.05zM688.2 216.32h1.05v1.05h-1.05zM688.2 219.39h1.05v1.05h-1.05zM688.2 222.47h1.05v1.05h-1.05zM688.2 225.53h1.05v1.05h-1.05zM688.2 228.6h1.05v1.05h-1.05zM688.2 231.67h1.05v1.05h-1.05zM688.2 234.75h1.05v1.05h-1.05zM688.2 237.81h1.05v1.05h-1.05zM688.2 240.88h1.05v1.05h-1.05zM688.2 243.95h1.05v1.05h-1.05zM688.2 247.03h1.05v1.05h-1.05zM688.2 250.09h1.05v1.05h-1.05zM688.2 253.16h1.05v1.05h-1.05zM688.2 256.24h1.05v1.05h-1.05zM688.2 259.31h1.05v1.05h-1.05zM688.2 262.38h1.05v1.05h-1.05zM688.2 265.45h1.05v1.05h-1.05zM688.2 268.52h1.05v1.05h-1.05zM688.2 271.59h1.05v1.05h-1.05zM688.2 274.66h1.05v1.05h-1.05zM688.2 277.73h1.05v1.05h-1.05zM688.2 280.8h1.05v1.05h-1.05zM688.2 283.87h1.05v1.05h-1.05zM688.2 286.94h1.05v1.05h-1.05zM688.2 290h1.05v1.05h-1.05zM691.25 191.76h1.05v1.05h-1.05zM691.25 194.84h1.05v1.05h-1.05zM691.25 197.91h1.05v1.05h-1.05zM691.25 200.97h1.05v1.05h-1.05zM691.25 204.04h1.05v1.05h-1.05zM691.25 207.11h1.05v1.05h-1.05zM691.25 210.19h1.05v1.05h-1.05zM691.25 213.25h1.05v1.05h-1.05zM691.25 216.32h1.05v1.05h-1.05zM691.25 219.39h1.05v1.05h-1.05zM691.25 222.47h1.05v1.05h-1.05zM691.25 225.53h1.05v1.05h-1.05zM691.25 228.6h1.05v1.05h-1.05zM691.25 231.67h1.05v1.05h-1.05zM691.25 234.75h1.05v1.05h-1.05zM691.25 237.81h1.05v1.05h-1.05zM691.25 240.88h1.05v1.05h-1.05zM691.25 243.95h1.05v1.05h-1.05zM691.25 247.03h1.05v1.05h-1.05zM691.25 250.09h1.05v1.05h-1.05zM691.25 253.16h1.05v1.05h-1.05zM691.25 256.24h1.05v1.05h-1.05zM691.25 259.31h1.05v1.05h-1.05zM691.25 262.38h1.05v1.05h-1.05zM691.25 265.45h1.05v1.05h-1.05zM691.25 268.52h1.05v1.05h-1.05zM691.25 271.59h1.05v1.05h-1.05zM691.25 274.66h1.05v1.05h-1.05zM691.25 277.73h1.05v1.05h-1.05zM691.25 280.8h1.05v1.05h-1.05zM691.25 283.87h1.05v1.05h-1.05zM691.25 286.94h1.05v1.05h-1.05zM691.25 290h1.05v1.05h-1.05zM694.32 191.76h1.05v1.05h-1.05zM694.32 194.84h1.05v1.05h-1.05zM694.32 197.91h1.05v1.05h-1.05zM694.32 200.97h1.05v1.05h-1.05zM694.32 204.04h1.05v1.05h-1.05zM694.32 207.11h1.05v1.05h-1.05zM694.32 210.19h1.05v1.05h-1.05zM694.32 213.25h1.05v1.05h-1.05zM694.32 216.32h1.05v1.05h-1.05zM694.32 219.39h1.05v1.05h-1.05zM694.32 222.47h1.05v1.05h-1.05zM694.32 225.53h1.05v1.05h-1.05zM694.32 228.6h1.05v1.05h-1.05zM694.32 231.67h1.05v1.05h-1.05zM694.32 234.75h1.05v1.05h-1.05zM694.32 237.81h1.05v1.05h-1.05zM694.32 240.88h1.05v1.05h-1.05zM694.32 243.95h1.05v1.05h-1.05zM694.32 247.03h1.05v1.05h-1.05zM694.32 250.09h1.05v1.05h-1.05zM694.32 253.16h1.05v1.05h-1.05zM694.32 256.24h1.05v1.05h-1.05zM694.32 259.31h1.05v1.05h-1.05zM694.32 262.38h1.05v1.05h-1.05zM694.32 265.45h1.05v1.05h-1.05zM694.32 268.52h1.05v1.05h-1.05zM694.32 271.59h1.05v1.05h-1.05zM694.32 274.66h1.05v1.05h-1.05zM694.32 277.73h1.05v1.05h-1.05zM694.32 280.8h1.05v1.05h-1.05zM694.32 283.87h1.05v1.05h-1.05zM694.32 286.94h1.05v1.05h-1.05zM694.32 290h1.05v1.05h-1.05zM697.38 191.76h1.05v1.05h-1.05zM697.38 194.84h1.05v1.05h-1.05zM697.38 197.91h1.05v1.05h-1.05zM697.38 200.97h1.05v1.05h-1.05zM697.38 204.04h1.05v1.05h-1.05zM697.38 207.11h1.05v1.05h-1.05zM697.38 210.19h1.05v1.05h-1.05zM697.38 213.25h1.05v1.05h-1.05zM697.38 216.32h1.05v1.05h-1.05zM697.38 219.39h1.05v1.05h-1.05zM697.38 222.47h1.05v1.05h-1.05zM697.38 225.53h1.05v1.05h-1.05zM697.38 228.6h1.05v1.05h-1.05zM697.38 231.67h1.05v1.05h-1.05zM697.38 234.75h1.05v1.05h-1.05zM697.38 237.81h1.05v1.05h-1.05zM697.38 240.88h1.05v1.05h-1.05zM697.38 243.95h1.05v1.05h-1.05zM697.38 247.03h1.05v1.05h-1.05zM697.38 250.09h1.05v1.05h-1.05zM697.38 253.16h1.05v1.05h-1.05zM697.38 256.24h1.05v1.05h-1.05zM697.38 259.31h1.05v1.05h-1.05zM697.38 262.38h1.05v1.05h-1.05zM697.38 265.45h1.05v1.05h-1.05zM697.38 268.52h1.05v1.05h-1.05zM697.38 271.59h1.05v1.05h-1.05zM697.38 274.66h1.05v1.05h-1.05zM697.38 277.73h1.05v1.05h-1.05zM697.38 280.8h1.05v1.05h-1.05zM697.38 283.87h1.05v1.05h-1.05zM697.38 286.94h1.05v1.05h-1.05zM697.38 290h1.05v1.05h-1.05z"/>
<path fill="#fff" d="M90.13 266.75h1.5v1.5h-1.5zM90.13 272.89h1.5v1.5h-1.5zM90.13 279.03h1.5v1.5h-1.5zM90.13 285.18h1.5v1.5h-1.5zM90.13 291.31h1.5v1.5h-1.5zM93.19 263.69h1.5v1.5h-1.5zM93.19 269.82h1.5v1.5h-1.5zM93.19 275.96h1.5v1.5h-1.5zM93.19 282.11h1.5v1.5h-1.5zM93.19 288.25h1.5v1.5h-1.5zM96.25 266.75h1.5v1.5h-1.5zM96.25 272.89h1.5v1.5h-1.5zM96.25 279.03h1.5v1.5h-1.5zM96.25 285.18h1.5v1.5h-1.5zM96.25 291.31h1.5v1.5h-1.5zM99.31 263.69h1.5v1.5h-1.5zM99.31 269.82h1.5v1.5h-1.5zM99.31 275.96h1.5v1.5h-1.5zM99.31 282.11h1.5v1.5h-1.5zM99.31 288.25h1.5v1.5h-1.5zM102.37 266.75h1.5v1.5h-1.5zM102.37 272.89h1.5v1.5h-1.5zM102.37 279.03h1.5v1.5h-1.5zM102.37 285.18h1.5v1.5h-1.5zM102.37 291.31h1.5v1.5h-1.5zM105.42 263.69h1.5v1.5h-1.5zM105.42 269.82h1.5v1.5h-1.5zM105.42 275.96h1.5v1.5h-1.5zM105.42 282.11h1.5v1.5h-1.5zM105.42 288.25h1.5v1.5h-1.5zM108.48 266.75h1.5v1.5h-1.5zM108.48 272.89h1.5v1.5h-1.5zM108.48 279.03h1.5v1.5h-1.5zM108.48 285.18h1.5v1.5h-1.5zM108.48 291.31h1.5v1.5h-1.5zM111.54 263.69h1.5v1.5h-1.5zM111.54 269.82h1.5v1.5h-1.5zM111.54 275.96h1.5v1.5h-1.5zM111.54 282.11h1.5v1.5h-1.5zM111.54 288.25h1.5v1.5h-1.5zM114.6 266.75h1.5v1.5h-1.5zM114.6 272.89h1.5v1.5h-1.5zM114.6 279.03h1.5v1.5h-1.5zM114.6 285.18h1.5v1.5h-1.5zM114.6 291.31h1.5v1.5h-1.5zM197.16 147.03h1.5v1.5h-1.5zM197.16 153.16h1.5v1.5h-1.5zM197.16 159.31h1.5v1.5h-1.5zM197.16 165.44h1.5v1.5h-1.5zM197.16 171.59h1.5v1.5h-1.5zM197.16 177.72h1.5v1.5h-1.5zM197.16 183.87h1.5v1.5h-1.5zM197.16 190h1.5v1.5h-1.5zM197.16 196.15h1.5v1.5h-1.5zM197.16 202.28h1.5v1.5h-1.5zM197.16 208.43h1.5v1.5h-1.5zM197.16 214.56h1.5v1.5h-1.5zM197.16 220.7h1.5v1.5h-1.5zM197.16 226.84h1.5v1.5h-1.5zM197.16 232.99h1.5v1.5h-1.5zM197.16 239.13h1.5v1.5h-1.5zM197.16 245.26h1.5v1.5h-1.5zM197.16 251.41h1.5v1.5h-1.5zM197.16 257.55h1.5v1.5h-1.5zM197.16 263.69h1.5v1.5h-1.5zM197.16 269.82h1.5v1.5h-1.5zM197.16 275.96h1.5v1.5h-1.5zM197.16 282.11h1.5v1.5h-1.5zM197.16 288.25h1.5v1.5h-1.5zM200.22 143.96h1.5v1.5h-1.5zM200.22 150.09h1.5v1.5h-1.5zM200.22 156.24h1.5v1.5h-1.5zM200.22 162.37h1.5v1.5h-1.5zM200.22 168.51h1.5v1.5h-1.5zM200.22 174.66h1.5v1.5h-1.5zM200.22 180.8h1.5v1.5h-1.5zM200.22 186.94h1.5v1.5h-1.5zM200.22 193.07h1.5v1.5h-1.5zM200.22 199.22h1.5v1.5h-1.5zM200.22 205.35h1.5v1.5h-1.5zM200.22 211.5h1.5v1.5h-1.5zM200.22 217.63h1.5v1.5h-1.5zM200.22 223.78h1.5v1.5h-1.5zM200.22 229.91h1.5v1.5h-1.5zM200.22 236.06h1.5v1.5h-1.5zM200.22 242.19h1.5v1.5h-1.5zM200.22 248.34h1.5v1.5h-1.5zM200.22 254.47h1.5v1.5h-1.5zM200.22 260.62h1.5v1.5h-1.5zM200.22 266.75h1.5v1.5h-1.5zM200.22 272.89h1.5v1.5h-1.5zM200.22 279.03h1.5v1.5h-1.5zM200.22 285.18h1.5v1.5h-1.5zM200.22 291.31h1.5v1.5h-1.5zM203.28 147.03h1.5v1.5h-1.5zM203.28 153.16h1.5v1.5h-1.5zM203.28 159.31h1.5v1.5h-1.5zM203.28 165.44h1.5v1.5h-1.5zM203.28 171.59h1.5v1.5h-1.5zM203.28 177.72h1.5v1.5h-1.5zM203.28 183.87h1.5v1.5h-1.5zM203.28 190h1.5v1.5h-1.5zM203.28 196.15h1.5v1.5h-1.5zM203.28 202.28h1.5v1.5h-1.5zM203.28 208.43h1.5v1.5h-1.5zM203.28 214.56h1.5v1.5h-1.5zM203.28 220.7h1.5v1.5h-1.5zM203.28 226.84h1.5v1.5h-1.5zM203.28 232.99h1.5v1.5h-1.5zM203.28 239.13h1.5v1.5h-1.5zM203.28 245.26h1.5v1.5h-1.5zM203.28 251.41h1.5v1.5h-1.5zM203.28 257.55h1.5v1.5h-1.5zM203.28 263.69h1.5v1.5h-1.5zM203.28 269.82h1.5v1.5h-1.5zM203.28 275.96h1.5v1.5h-1.5zM203.28 282.11h1.5v1.5h-1.5zM203.28 288.25h1.5v1.5h-1.5zM206.34 143.96h1.5v1.5h-1.5zM206.34 150.09h1.5v1.5h-1.5zM206.34 156.24h1.5v1.5h-1.5zM206.34 162.37h1.5v1.5h-1.5zM206.34 168.51h1.5v1.5h-1.5zM206.34 174.66h1.5v1.5h-1.5zM206.34 180.8h1.5v1.5h-1.5zM206.34 186.94h1.5v1.5h-1.5zM206.34 193.07h1.5v1.5h-1.5zM206.34 199.22h1.5v1.5h-1.5zM206.34 205.35h1.5v1.5h-1.5zM206.34 211.5h1.5v1.5h-1.5zM206.34 217.63h1.5v1.5h-1.5zM206.34 223.78h1.5v1.5h-1.5zM206.34 229.91h1.5v1.5h-1.5zM206.34 236.06h1.5v1.5h-1.5zM206.34 242.19h1.5v1.5h-1.5zM206.34 248.34h1.5v1.5h-1.5zM206.34 254.47h1.5v1.5h-1.5zM206.34 260.62h1.5v1.5h-1.5zM206.34 266.75h1.5v1.5h-1.5zM206.34 272.89h1.5v1.5h-1.5zM206.34 279.03h1.5v1.5h-1.5zM206.34 285.18h1.5v1.5h-1.5zM206.34 291.31h1.5v1.5h-1.5zM209.4 147.03h1.5v1.5h-1.5zM209.4 153.16h1.5v1.5h-1.5zM209.4 159.31h1.5v1.5h-1.5zM209.4 165.44h1.5v1.5h-1.5zM209.4 171.59h1.5v1.5h-1.5zM209.4 177.72h1.5v1.5h-1.5zM209.4 183.87h1.5v1.5h-1.5zM209.4 190h1.5v1.5h-1.5zM209.4 196.15h1.5v1.5h-1.5zM209.4 202.28h1.5v1.5h-1.5zM209.4 208.43h1.5v1.5h-1.5zM209.4 214.56h1.5v1.5h-1.5zM209.4 220.7h1.5v1.5h-1.5zM209.4 226.84h1.5v1.5h-1.5zM209.4 232.99h1.5v1.5h-1.5zM209.4 239.13h1.5v1.5h-1.5zM209.4 245.26h1.5v1.5h-1.5zM209.4 251.41h1.5v1.5h-1.5zM209.4 257.55h1.5v1.5h-1.5zM209.4 263.69h1.5v1.5h-1.5zM209.4 269.82h1.5v1.5h-1.5zM209.4 275.96h1.5v1.5h-1.5zM209.4 282.11h1.5v1.5h-1.5zM209.4 288.25h1.5v1.5h-1.5zM212.45 143.96h1.5v1.5h-1.5zM212.45 150.09h1.5v1.5h-1.5zM212.45 156.24h1.5v1.5h-1.5zM212.45 162.37h1.5v1.5h-1.5zM212.45 168.51h1.5v1.5h-1.5zM212.45 174.66h1.5v1.5h-1.5zM212.45 180.8h1.5v1.5h-1.5zM212.45 186.94h1.5v1.5h-1.5zM212.45 193.07h1.5v1.5h-1.5zM212.45 199.22h1.5v1.5h-1.5zM212.45 205.35h1.5v1.5h-1.5zM212.45 211.5h1.5v1.5h-1.5zM212.45 217.63h1.5v1.5h-1.5zM212.45 223.78h1.5v1.5h-1.5zM212.45 229.91h1.5v1.5h-1.5zM212.45 236.06h1.5v1.5h-1.5zM212.45 242.19h1.5v1.5h-1.5zM212.45 248.34h1.5v1.5h-1.5zM212.45 254.47h1.5v1.5h-1.5zM212.45 260.62h1.5v1.5h-1.5zM212.45 266.75h1.5v1.5h-1.5zM212.45 272.89h1.5v1.5h-1.5zM212.45 279.03h1.5v1.5h-1.5zM212.45 285.18h1.5v1.5h-1.5zM212.45 291.31h1.5v1.5h-1.5zM215.51 147.03h1.5v1.5h-1.5zM215.51 153.16h1.5v1.5h-1.5zM215.51 159.31h1.5v1.5h-1.5zM215.51 165.44h1.5v1.5h-1.5zM215.51 171.59h1.5v1.5h-1.5zM215.51 177.72h1.5v1.5h-1.5zM215.51 183.87h1.5v1.5h-1.5zM215.51 190h1.5v1.5h-1.5zM215.51 196.15h1.5v1.5h-1.5zM215.51 202.28h1.5v1.5h-1.5zM215.51 208.43h1.5v1.5h-1.5zM215.51 214.56h1.5v1.5h-1.5zM215.51 220.7h1.5v1.5h-1.5zM215.51 226.84h1.5v1.5h-1.5zM215.51 232.99h1.5v1.5h-1.5zM215.51 239.13h1.5v1.5h-1.5zM215.51 245.26h1.5v1.5h-1.5zM215.51 251.41h1.5v1.5h-1.5zM215.51 257.55h1.5v1.5h-1.5zM215.51 263.69h1.5v1.5h-1.5zM215.51 269.82h1.5v1.5h-1.5zM215.51 275.96h1.5v1.5h-1.5zM215.51 282.11h1.5v1.5h-1.5zM215.51 288.25h1.5v1.5h-1.5zM218.57 143.96h1.5v1.5h-1.5zM218.57 150.09h1.5v1.5h-1.5zM218.57 156.24h1.5v1.5h-1.5zM218.57 162.37h1.5v1.5h-1.5zM218.57 168.51h1.5v1.5h-1.5zM218.57 174.66h1.5v1.5h-1.5zM218.57 180.8h1.5v1.5h-1.5zM218.57 186.94h1.5v1.5h-1.5zM218.57 193.07h1.5v1.5h-1.5zM218.57 199.22h1.5v1.5h-1.5zM218.57 205.35h1.5v1.5h-1.5zM218.57 211.5h1.5v1.5h-1.5zM218.57 217.63h1.5v1.5h-1.5zM218.57 223.78h1.5v1.5h-1.5zM218.57 229.91h1.5v1.5h-1.5zM218.57 236.06h1.5v1.5h-1.5zM218.57 242.19h1.5v1.5h-1.5zM218.57 248.34h1.5v1.5h-1.5zM218.57 254.47h1.5v1.5h-1.5zM218.57 260.62h1.5v1.5h-1.5zM218.57 266.75h1.5v1.5h-1.5zM218.57 272.89h1.5v1.5h-1.5zM218.57 279.03h1.5v1.5h-1.5zM218.57 285.18h1.5v1.5h-1.5zM218.57 291.31h1.5v1.5h-1.5zM221.63 147.03h1.5v1.5h-1.5zM221.63 153.16h1.5v1.5h-1.5zM221.63 159.31h1.5v1.5h-1.5zM221.63 165.44h1.5v1.5h-1.5zM221.63 171.59h1.5v1.5h-1.5zM221.63 177.72h1.5v1.5h-1.5zM221.63 183.87h1.5v1.5h-1.5zM221.63 190h1.5v1.5h-1.5zM221.63 196.15h1.5v1.5h-1.5zM221.63 202.28h1.5v1.5h-1.5zM221.63 208.43h1.5v1.5h-1.5zM221.63 214.56h1.5v1.5h-1.5zM221.63 220.7h1.5v1.5h-1.5zM221.63 226.84h1.5v1.5h-1.5zM221.63 232.99h1.5v1.5h-1.5zM221.63 239.13h1.5v1.5h-1.5zM221.63 245.26h1.5v1.5h-1.5zM221.63 251.41h1.5v1.5h-1.5zM221.63 257.55h1.5v1.5h-1.5zM221.63 263.69h1.5v1.5h-1.5zM221.63 269.82h1.5v1.5h-1.5zM221.63 275.96h1.5v1.5h-1.5zM221.63 282.11h1.5v1.5h-1.5zM221.63 288.25h1.5v1.5h-1.5zM304.19 199.22h1.5v1.5h-1.5zM304.19 205.35h1.5v1.5h-1.5zM304.19 211.5h1.5v1.5h-1.5zM304.19 217.63h1.5v1.5h-1.5zM304.19 223.78h1.5v1.5h-1.5zM304.19 229.91h1.5v1.5h-1.5zM304.19 236.06h1.5v1.5h-1.5zM304.19 242.19h1.5v1.5h-1.5zM304.19 248.34h1.5v1.5h-1.5zM304.19 254.47h1.5v1.5h-1.5zM304.19 260.62h1.5v1.5h-1.5zM304.19 266.75h1.5v1.5h-1.5zM304.19 272.89h1.5v1.5h-1.5zM304.19 279.03h1.5v1.5h-1.5zM304.19 285.18h1.5v1.5h-1.5zM304.19 291.31h1.5v1.5h-1.5zM307.25 202.28h1.5v1.5h-1.5zM307.25 208.43h1.5v1.5h-1.5zM307.25 214.56h1.5v1.5h-1.5zM307.25 220.7h1.5v1.5h-1.5zM307.25 226.84h1.5v1.5h-1.5zM307.25 232.99h1.5v1.5h-1.5zM307.25 239.13h1.5v1.5h-1.5zM307.25 245.26h1.5v1.5h-1.5zM307.25 251.41h1.5v1.5h-1.5zM307.25 257.55h1.5v1.5h-1.5zM307.25 263.69h1.5v1.5h-1.5zM307.25 269.82h1.5v1.5h-1.5zM307.25 275.96h1.5v1.5h-1.5zM307.25 282.11h1.5v1.5h-1.5zM307.25 288.25h1.5v1.5h-1.5zM310.31 199.22h1.5v1.5h-1.5zM310.31 205.35h1.5v1.5h-1.5zM310.31 211.5h1.5v1.5h-1.5zM310.31 217.63h1.5v1.5h-1.5zM310.31 223.78h1.5v1.5h-1.5zM310.31 229.91h1.5v1.5h-1.5zM310.31 236.06h1.5v1.5h-1.5zM310.31 242.19h1.5v1.5h-1.5zM310.31 248.34h1.5v1.5h-1.5zM310.31 254.47h1.5v1.5h-1.5zM310.31 260.62h1.5v1.5h-1.5zM310.31 266.75h1.5v1.5h-1.5zM310.31 272.89h1.5v1.5h-1.5zM310.31 279.03h1.5v1.5h-1.5zM310.31 285.18h1.5v1.5h-1.5zM310.31 291.31h1.5v1.5h-1.5zM313.37 202.28h1.5v1.5h-1.5zM313.37 208.43h1.5v1.5h-1.5zM313.37 214.56h1.5v1.5h-1.5zM313.37 220.7h1.5v1.5h-1.5zM313.37 226.84h1.5v1.5h-1.5zM313.37 232.99h1.5v1.5h-1.5zM313.37 239.13h1.5v1.5h-1.5zM313.37 245.26h1.5v1.5h-1.5zM313.37 251.41h1.5v1.5h-1.5zM313.37 257.55h1.5v1.5h-1.5zM313.37 263.69h1.5v1.5h-1.5zM313.37 269.82h1.5v1.5h-1.5zM313.37 275.96h1.5v1.5h-1.5zM313.37 282.11h1.5v1.5h-1.5zM313.37 288.25h1.5v1.5h-1.5zM316.43 199.22h1.5v1.5h-1.5zM316.43 205.35h1.5v1.5h-1.5zM316.43 211.5h1.5v1.5h-1.5zM316.43 217.63h1.5v1.5h-1.5zM316.43 223.78h1.5v1.5h-1.5zM316.43 229.91h1.5v1.5h-1.5zM316.43 236.06h1.5v1.5h-1.5zM316.43 242.19h1.5v1.5h-1.5zM316.43 248.34h1.5v1.5h-1.5zM316.43 254.47h1.5v1.5h-1.5zM316.43 260.62h1.5v1.5h-1.5zM316.43 266.75h1.5v1.5h-1.5zM316.43 272.89h1.5v1.5h-1.5zM316.43 279.03h1.5v1.5h-1.5zM316.43 285.18h1.5v1.5h-1.5zM316.43 291.31h1.5v1.5h-1.5zM319.48 202.28h1.5v1.5h-1.5zM319.48 208.43h1.5v1.5h-1.5zM319.48 214.56h1.5v1.5h-1.5zM319.48 220.7h1.5v1.5h-1.5zM319.48 226.84h1.5v1.5h-1.5zM319.48 232.99h1.5v1.5h-1.5zM319.48 239.13h1.5v1.5h-1.5zM319.48 245.26h1.5v1.5h-1.5zM319.48 251.41h1.5v1.5h-1.5zM319.48 257.55h1.5v1.5h-1.5zM319.48 263.69h1.5v1.5h-1.5zM319.48 269.82h1.5v1.5h-1.5zM319.48 275.96h1.5v1.5h-1.5zM319.48 282.11h1.5v1.5h-1.5zM319.48 288.25h1.5v1.5h-1.5zM322.54 199.22h1.5v1.5h-1.5zM322.54 205.35h1.5v1.5h-1.5zM322.54 211.5h1.5v1.5h-1.5zM322.54 217.63h1.5v1.5h-1.5zM322.54 223.78h1.5v1.5h-1.5zM322.54 229.91h1.5v1.5h-1.5zM322.54 236.06h1.5v1.5h-1.5zM322.54 242.19h1.5v1.5h-1.5zM322.54 248.34h1.5v1.5h-1.5zM322.54 254.47h1.5v1.5h-1.5zM322.54 260.62h1.5v1.5h-1.5zM322.54 266.75h1.5v1.5h-1.5zM322.54 272.89h1.5v1.5h-1.5zM322.54 279.03h1.5v1.5h-1.5zM322.54 285.18h1.5v1.5h-1.5zM322.54 291.31h1.5v1.5h-1.5zM325.6 202.28h1.5v1.5h-1.5zM325.6 208.43h1.5v1.5h-1.5zM325.6 214.56h1.5v1.5h-1.5zM325.6 220.7h1.5v1.5h-1.5zM325.6 226.84h1.5v1.5h-1.5zM325.6 232.99h1.5v1.5h-1.5zM325.6 239.13h1.5v1.5h-1.5zM325.6 245.26h1.5v1.5h-1.5zM325.6 251.41h1.5v1.5h-1.5zM325.6 257.55h1.5v1.5h-1.5zM325.6 263.69h1.5v1.5h-1.5zM325.6 269.82h1.5v1.5h-1.5zM325.6 275.96h1.5v1.5h-1.5zM325.6 282.11h1.5v1.5h-1.5zM325.6 288.25h1.5v1.5h-1.5zM328.66 199.22h1.5v1.5h-1.5zM328.66 205.35h1.5v1.5h-1.5zM328.66 211.5h1.5v1.5h-1.5zM328.66 217.63h1.5v1.5h-1.5zM328.66 223.78h1.5v1.5h-1.5zM328.66 229.91h1.5v1.5h-1.5zM328.66 236.06h1.5v1.5h-1.5zM328.66 242.19h1.5v1.5h-1.5zM328.66 248.34h1.5v1.5h-1.5zM328.66 254.47h1.5v1.5h-1.5zM328.66 260.62h1.5v1.5h-1.5zM328.66 266.75h1.5v1.5h-1.5zM328.66 272.89h1.5v1.5h-1.5zM328.66 279.03h1.5v1.5h-1.5zM328.66 285.18h1.5v1.5h-1.5zM328.66 291.31h1.5v1.5h-1.5zM460.15 30.37h1.5v1.5h-1.5zM460.15 36.5h1.5v1.5h-1.5zM460.15 42.65h1.5v1.5h-1.5zM460.15 251.41h1.5v1.5h-1.5zM460.15 257.55h1.5v1.5h-1.5zM460.15 263.69h1.5v1.5h-1.5zM460.15 269.82h1.5v1.5h-1.5zM460.15 275.96h1.5v1.5h-1.5zM460.15 282.11h1.5v1.5h-1.5zM460.15 288.25h1.5v1.5h-1.5zM463.21 27.3h1.5v1.5h-1.5zM463.21 33.44h1.5v1.5h-1.5zM463.21 39.58h1.5v1.5h-1.5zM463.21 254.47h1.5v1.5h-1.5zM463.21 260.62h1.5v1.5h-1.5zM463.21 266.75h1.5v1.5h-1.5zM463.21 272.89h1.5v1.5h-1.5zM463.21 279.03h1.5v1.5h-1.5zM463.21 285.18h1.5v1.5h-1.5zM463.21 291.31h1.5v1.5h-1.5zM466.27 30.37h1.5v1.5h-1.5zM466.27 36.5h1.5v1.5h-1.5zM466.27 42.65h1.5v1.5h-1.5zM466.27 251.41h1.5v1.5h-1.5zM466.27 257.55h1.5v1.5h-1.5zM466.27 263.69h1.5v1.5h-1.5zM466.27 269.82h1.5v1.5h-1.5zM466.27 275.96h1.5v1.5h-1.5zM466.27 282.11h1.5v1.5h-1.5zM466.27 288.25h1.5v1.5h-1.5zM469.32 27.3h1.5v1.5h-1.5zM469.32 33.44h1.5v1.5h-1.5zM469.32 39.58h1.5v1.5h-1.5zM469.32 254.47h1.5v1.5h-1.5zM469.32 260.62h1.5v1.5h-1.5zM469.32 266.75h1.5v1.5h-1.5zM469.32 272.89h1.5v1.5h-1.5zM469.32 279.03h1.5v1.5h-1.5zM469.32 285.18h1.5v1.5h-1.5zM469.32 291.31h1.5v1.5h-1.5zM472.38 30.37h1.5v1.5h-1.5zM472.38 36.5h1.5v1.5h-1.5zM472.38 42.65h1.5v1.5h-1.5zM472.38 251.41h1.5v1.5h-1.5zM472.38 257.55h1.5v1.5h-1.5zM472.38 263.69h1.5v1.5h-1.5zM472.38 269.82h1.5v1.5h-1.5zM472.38 275.96h1.5v1.5h-1.5zM472.38 282.11h1.5v1.5h-1.5zM472.38 288.25h1.5v1.5h-1.5zM475.44 27.3h1.5v1.5h-1.5zM475.44 33.44h1.5v1.5h-1.5zM475.44 39.58h1.5v1.5h-1.5zM475.44 254.47h1.5v1.5h-1.5zM475.44 260.62h1.5v1.5h-1.5zM475.44 266.75h1.5v1.5h-1.5zM475.44 272.89h1.5v1.5h-1.5zM475.44 279.03h1.5v1.5h-1.5zM475.44 285.18h1.5v1.5h-1.5zM475.44 291.31h1.5v1.5h-1.5zM478.5 30.37h1.5v1.5h-1.5zM478.5 36.5h1.5v1.5h-1.5zM478.5 42.65h1.5v1.5h-1.5zM478.5 251.41h1.5v1.5h-1.5zM478.5 257.55h1.5v1.5h-1.5zM478.5 263.69h1.5v1.5h-1.5zM478.5 269.82h1.5v1.5h-1.5zM478.5 275.96h1.5v1.5h-1.5zM478.5 282.11h1.5v1.5h-1.5zM478.5 288.25h1.5v1.5h-1.5zM481.56 27.3h1.5v1.5h-1.5zM481.56 33.44h1.5v1.5h-1.5zM481.56 39.58h1.5v1.5h-1.5zM481.56 254.47h1.5v1.5h-1.5zM481.56 260.62h1.5v1.5h-1.5zM481.56 266.75h1.5v1.5h-1.5zM481.56 272.89h1.5v1.5h-1.5zM481.56 279.03h1.5v1.5h-1.5zM481.56 285.18h1.5v1.5h-1.5zM481.56 291.31h1.5v1.5h-1.5zM484.62 30.37h1.5v1.5h-1.5zM484.62 36.5h1.5v1.5h-1.5zM484.62 42.65h1.5v1.5h-1.5zM484.62 251.41h1.5v1.5h-1.5zM484.62 257.55h1.5v1.5h-1.5zM484.62 263.69h1.5v1.5h-1.5zM484.62 269.82h1.5v1.5h-1.5zM484.62 275.96h1.5v1.5h-1.5zM484.62 282.11h1.5v1.5h-1.5zM484.62 288.25h1.5v1.5h-1.5zM487.67 27.3h1.5v1.5h-1.5zM487.67 33.44h1.5v1.5h-1.5zM487.67 39.58h1.5v1.5h-1.5zM490.73 30.37h1.5v1.5h-1.5zM490.73 36.5h1.5v1.5h-1.5zM490.73 42.65h1.5v1.5h-1.5zM493.79 27.3h1.5v1.5h-1.5zM493.79 33.44h1.5v1.5h-1.5zM493.79 39.58h1.5v1.5h-1.5zM496.85 30.37h1.5v1.5h-1.5zM496.85 36.5h1.5v1.5h-1.5zM496.85 42.65h1.5v1.5h-1.5zM499.9 27.3h1.5v1.5h-1.5zM499.9 33.44h1.5v1.5h-1.5zM499.9 39.58h1.5v1.5h-1.5zM502.96 30.37h1.5v1.5h-1.5zM502.96 36.5h1.5v1.5h-1.5zM502.96 42.65h1.5v1.5h-1.5zM567.18 199.22h1.5v1.5h-1.5zM567.18 205.35h1.5v1.5h-1.5zM567.18 211.5h1.5v1.5h-1.5zM567.18 217.63h1.5v1.5h-1.5zM567.18 223.78h1.5v1.5h-1.5zM567.18 229.91h1.5v1.5h-1.5zM567.18 236.06h1.5v1.5h-1.5zM567.18 242.19h1.5v1.5h-1.5zM567.18 248.34h1.5v1.5h-1.5zM567.18 254.47h1.5v1.5h-1.5zM567.18 260.62h1.5v1.5h-1.5zM567.18 266.75h1.5v1.5h-1.5zM567.18 272.89h1.5v1.5h-1.5zM567.18 279.03h1.5v1.5h-1.5zM567.18 285.18h1.5v1.5h-1.5zM567.18 291.31h1.5v1.5h-1.5zM570.24 196.15h1.5v1.5h-1.5zM570.24 202.28h1.5v1.5h-1.5zM570.24 208.43h1.5v1.5h-1.5zM570.24 214.56h1.5v1.5h-1.5zM570.24 220.7h1.5v1.5h-1.5zM570.24 226.84h1.5v1.5h-1.5zM570.24 232.99h1.5v1.5h-1.5zM570.24 239.13h1.5v1.5h-1.5zM570.24 245.26h1.5v1.5h-1.5zM570.24 251.41h1.5v1.5h-1.5zM570.24 257.55h1.5v1.5h-1.5zM570.24 263.69h1.5v1.5h-1.5zM570.24 269.82h1.5v1.5h-1.5zM570.24 275.96h1.5v1.5h-1.5zM570.24 282.11h1.5v1.5h-1.5zM570.24 288.25h1.5v1.5h-1.5zM573.3 199.22h1.5v1.5h-1.5zM573.3 205.35h1.5v1.5h-1.5zM573.3 211.5h1.5v1.5h-1.5zM573.3 217.63h1.5v1.5h-1.5zM573.3 223.78h1.5v1.5h-1.5zM573.3 229.91h1.5v1.5h-1.5zM573.3 236.06h1.5v1.5h-1.5zM573.3 242.19h1.5v1.5h-1.5zM573.3 248.34h1.5v1.5h-1.5zM573.3 254.47h1.5v1.5h-1.5zM573.3 260.62h1.5v1.5h-1.5zM573.3 266.75h1.5v1.5h-1.5zM573.3 272.89h1.5v1.5h-1.5zM573.3 279.03h1.5v1.5h-1.5zM573.3 285.18h1.5v1.5h-1.5zM573.3 291.31h1.5v1.5h-1.5zM576.36 196.15h1.5v1.5h-1.5zM576.36 202.28h1.5v1.5h-1.5zM576.36 208.43h1.5v1.5h-1.5zM576.36 214.56h1.5v1.5h-1.5zM576.36 220.7h1.5v1.5h-1.5zM576.36 226.84h1.5v1.5h-1.5zM576.36 232.99h1.5v1.5h-1.5zM576.36 239.13h1.5v1.5h-1.5zM576.36 245.26h1.5v1.5h-1.5zM576.36 251.41h1.5v1.5h-1.5zM576.36 257.55h1.5v1.5h-1.5zM576.36 263.69h1.5v1.5h-1.5zM576.36 269.82h1.5v1.5h-1.5zM576.36 275.96h1.5v1.5h-1.5zM576.36 282.11h1.5v1.5h-1.5zM576.36 288.25h1.5v1.5h-1.5zM579.41 199.22h1.5v1.5h-1.5zM579.41 205.35h1.5v1.5h-1.5zM579.41 211.5h1.5v1.5h-1.5zM579.41 217.63h1.5v1.5h-1.5zM579.41 223.78h1.5v1.5h-1.5zM579.41 229.91h1.5v1.5h-1.5zM579.41 236.06h1.5v1.5h-1.5zM579.41 242.19h1.5v1.5h-1.5zM579.41 248.34h1.5v1.5h-1.5zM579.41 254.47h1.5v1.5h-1.5zM579.41 260.62h1.5v1.5h-1.5zM579.41 266.75h1.5v1.5h-1.5zM579.41 272.89h1.5v1.5h-1.5zM579.41 279.03h1.5v1.5h-1.5zM579.41 285.18h1.5v1.5h-1.5zM579.41 291.31h1.5v1.5h-1.5zM582.47 196.15h1.5v1.5h-1.5zM582.47 202.28h1.5v1.5h-1.5zM582.47 208.43h1.5v1.5h-1.5zM582.47 214.56h1.5v1.5h-1.5zM582.47 220.7h1.5v1.5h-1.5zM582.47 226.84h1.5v1.5h-1.5zM582.47 232.99h1.5v1.5h-1.5zM582.47 239.13h1.5v1.5h-1.5zM582.47 245.26h1.5v1.5h-1.5zM582.47 251.41h1.5v1.5h-1.5zM582.47 257.55h1.5v1.5h-1.5zM582.47 263.69h1.5v1.5h-1.5zM582.47 269.82h1.5v1.5h-1.5zM582.47 275.96h1.5v1.5h-1.5zM582.47 282.11h1.5v1.5h-1.5zM582.47 288.25h1.5v1.5h-1.5zM585.53 199.22h1.5v1.5h-1.5zM585.53 205.35h1.5v1.5h-1.5zM585.53 211.5h1.5v1.5h-1.5zM585.53 217.63h1.5v1.5h-1.5zM585.53 223.78h1.5v1.5h-1.5zM585.53 229.91h1.5v1.5h-1.5zM585.53 236.06h1.5v1.5h-1.5zM585.53 242.19h1.5v1.5h-1.5zM585.53 248.34h1.5v1.5h-1.5zM585.53 254.47h1.5v1.5h-1.5zM585.53 260.62h1.5v1.5h-1.5zM585.53 266.75h1.5v1.5h-1.5zM585.53 272.89h1.5v1.5h-1.5zM585.53 279.03h1.5v1.5h-1.5zM585.53 285.18h1.5v1.5h-1.5zM585.53 291.31h1.5v1.5h-1.5zM588.59 196.15h1.5v1.5h-1.5zM588.59 202.28h1.5v1.5h-1.5zM588.59 208.43h1.5v1.5h-1.5zM588.59 214.56h1.5v1.5h-1.5zM588.59 220.7h1.5v1.5h-1.5zM588.59 226.84h1.5v1.5h-1.5zM588.59 232.99h1.5v1.5h-1.5zM588.59 239.13h1.5v1.5h-1.5zM588.59 245.26h1.5v1.5h-1.5zM588.59 251.41h1.5v1.5h-1.5zM588.59 257.55h1.5v1.5h-1.5zM588.59 263.69h1.5v1.5h-1.5zM588.59 269.82h1.5v1.5h-1.5zM588.59 275.96h1.5v1.5h-1.5zM588.59 282.11h1.5v1.5h-1.5zM588.59 288.25h1.5v1.5h-1.5zM591.64 199.22h1.5v1.5h-1.5zM591.64 205.35h1.5v1.5h-1.5zM591.64 211.5h1.5v1.5h-1.5zM591.64 217.63h1.5v1.5h-1.5zM591.64 223.78h1.5v1.5h-1.5zM591.64 229.91h1.5v1.5h-1.5zM591.64 236.06h1.5v1.5h-1.5zM591.64 242.19h1.5v1.5h-1.5zM591.64 248.34h1.5v1.5h-1.5zM591.64 254.47h1.5v1.5h-1.5zM591.64 260.62h1.5v1.5h-1.5zM591.64 266.75h1.5v1.5h-1.5zM591.64 272.89h1.5v1.5h-1.5zM591.64 279.03h1.5v1.5h-1.5zM591.64 285.18h1.5v1.5h-1.5zM591.64 291.31h1.5v1.5h-1.5zM674.21 196.15h1.5v1.5h-1.5zM674.21 202.28h1.5v1.5h-1.5zM674.21 208.43h1.5v1.5h-1.5zM674.21 214.56h1.5v1.5h-1.5zM674.21 220.7h1.5v1.5h-1.5zM674.21 226.84h1.5v1.5h-1.5zM674.21 232.99h1.5v1.5h-1.5zM674.21 239.13h1.5v1.5h-1.5zM674.21 245.26h1.5v1.5h-1.5zM674.21 251.41h1.5v1.5h-1.5zM674.21 257.55h1.5v1.5h-1.5zM674.21 263.69h1.5v1.5h-1.5zM674.21 269.82h1.5v1.5h-1.5zM674.21 275.96h1.5v1.5h-1.5zM674.21 282.11h1.5v1.5h-1.5zM674.21 288.25h1.5v1.5h-1.5zM677.27 193.07h1.5v1.5h-1.5zM677.27 199.22h1.5v1.5h-1.5zM677.27 205.35h1.5v1.5h-1.5zM677.27 211.5h1.5v1.5h-1.5zM677.27 217.63h1.5v1.5h-1.5zM677.27 223.78h1.5v1.5h-1.5zM677.27 229.91h1.5v1.5h-1.5zM677.27 236.06h1.5v1.5h-1.5zM677.27 242.19h1.5v1.5h-1.5zM677.27 248.34h1.5v1.5h-1.5zM677.27 254.47h1.5v1.5h-1.5zM677.27 260.62h1.5v1.5h-1.5zM677.27 266.75h1.5v1.5h-1.5zM677.27 272.89h1.5v1.5h-1.5zM677.27 279.03h1.5v1.5h-1.5zM677.27 285.18h1.5v1.5h-1.5zM677.27 291.31h1.5v1.5h-1.5zM680.33 196.15h1.5v1.5h-1.5zM680.33 202.28h1.5v1.5h-1.5zM680.33 208.43h1.5v1.5h-1.5zM680.33 214.56h1.5v1.5h-1.5zM680.33 220.7h1.5v1.5h-1.5zM680.33 226.84h1.5v1.5h-1.5zM680.33 232.99h1.5v1.5h-1.5zM680.33 239.13h1.5v1.5h-1.5zM680.33 245.26h1.5v1.5h-1.5zM680.33 251.41h1.5v1.5h-1.5zM680.33 257.55h1.5v1.5h-1.5zM680.33 263.69h1.5v1.5h-1.5zM680.33 269.82h1.5v1.5h-1.5zM680.33 275.96h1.5v1.5h-1.5zM680.33 282.11h1.5v1.5h-1.5zM680.33 288.25h1.5v1.5h-1.5zM683.38 193.07h1.5v1.5h-1.5zM683.38 199.22h1.5v1.5h-1.5zM683.38 205.35h1.5v1.5h-1.5zM683.38 211.5h1.5v1.5h-1.5zM683.38 217.63h1.5v1.5h-1.5zM683.38 223.78h1.5v1.5h-1.5zM683.38 229.91h1.5v1.5h-1.5zM683.38 236.06h1.5v1.5h-1.5zM683.38 242.19h1.5v1.5h-1.5zM683.38 248.34h1.5v1.5h-1.5zM683.38 254.47h1.5v1.5h-1.5zM683.38 260.62h1.5v1.5h-1.5zM683.38 266.75h1.5v1.5h-1.5zM683.38 272.89h1.5v1.5h-1.5zM683.38 279.03h1.5v1.5h-1.5zM683.38 285.18h1.5v1.5h-1.5zM683.38 291.31h1.5v1.5h-1.5zM686.44 196.15h1.5v1.5h-1.5zM686.44 202.28h1.5v1.5h-1.5zM686.44 208.43h1.5v1.5h-1.5zM686.44 214.56h1.5v1.5h-1.5zM686.44 220.7h1.5v1.5h-1.5zM686.44 226.84h1.5v1.5h-1.5zM686.44 232.99h1.5v1.5h-1.5zM686.44 239.13h1.5v1.5h-1.5zM686.44 245.26h1.5v1.5h-1.5zM686.44 251.41h1.5v1.5h-1.5zM686.44 257.55h1.5v1.5h-1.5zM686.44 263.69h1.5v1.5h-1.5zM686.44 269.82h1.5v1.5h-1.5zM686.44 275.96h1.5v1.5h-1.5zM686.44 282.11h1.5v1.5h-1.5zM686.44 288.25h1.5v1.5h-1.5zM689.5 193.07h1.5v1.5h-1.5zM689.5 199.22h1.5v1.5h-1.5zM689.5 205.35h1.5v1.5h-1.5zM689.5 211.5h1.5v1.5h-1.5zM689.5 217.63h1.5v1.5h-1.5zM689.5 223.78h1.5v1.5h-1.5zM689.5 229.91h1.5v1.5h-1.5zM689.5 236.06h1.5v1.5h-1.5zM689.5 242.19h1.5v1.5h-1.5zM689.5 248.34h1.5v1.5h-1.5zM689.5 254.47h1.5v1.5h-1.5zM689.5 260.62h1.5v1.5h-1.5zM689.5 266.75h1.5v1.5h-1.5zM689.5 272.89h1.5v1.5h-1.5zM689.5 279.03h1.5v1.5h-1.5zM689.5 285.18h1.5v1.5h-1.5zM689.5 291.31h1.5v1.5h-1.5zM692.56 196.15h1.5v1.5h-1.5zM692.56 202.28h1.5v1.5h-1.5zM692.56 208.43h1.5v1.5h-1.5zM692.56 214.56h1.5v1.5h-1.5zM692.56 220.7h1.5v1.5h-1.5zM692.56 226.84h1.5v1.5h-1.5zM692.56 232.99h1.5v1.5h-1.5zM692.56 239.13h1.5v1.5h-1.5zM692.56 245.26h1.5v1.5h-1.5zM692.56 251.41h1.5v1.5h-1.5zM692.56 257.55h1.5v1.5h-1.5zM692.56 263.69h1.5v1.5h-1.5zM692.56 269.82h1.5v1.5h-1.5zM692.56 275.96h1.5v1.5h-1.5zM692.56 282.11h1.5v1.5h-1.5zM692.56 288.25h1.5v1.5h-1.5zM695.62 193.07h1.5v1.5h-1.5zM695.62 199.22h1.5v1.5h-1.5zM695.62 205.35h1.5v1.5h-1.5zM695.62 211.5h1.5v1.5h-1.5zM695.62 217.63h1.5v1.5h-1.5zM695.62 223.78h1.5v1.5h-1.5zM695.62 229.91h1.5v1.5h-1.5zM695.62 236.06h1.5v1.5h-1.5zM695.62 242.19h1.5v1.5h-1.5zM695.62 248.34h1.5v1.5h-1.5zM695.62 254.47h1.5v1.5h-1.5zM695.62 260.62h1.5v1.5h-1.5zM695.62 266.75h1.5v1.5h-1.5zM695.62 272.89h1.5v1.5h-1.5zM695.62 279.03h1.5v1.5h-1.5zM695.62 285.18h1.5v1.5h-1.5zM695.62 291.31h1.5v1.5h-1.5zM698.67 196.15h1.5v1.5h-1.5zM698.67 202.28h1.5v1.5h-1.5zM698.67 208.43h1.5v1.5h-1.5zM698.67 214.56h1.5v1.5h-1.5zM698.67 220.7h1.5v1.5h-1.5zM698.67 226.84h1.5v1.5h-1.5zM698.67 232.99h1.5v1.5h-1.5zM698.67 239.13h1.5v1.5h-1.5zM698.67 245.26h1.5v1.5h-1.5zM698.67 251.41h1.5v1.5h-1.5zM698.67 257.55h1.5v1.5h-1.5zM698.67 263.69h1.5v1.5h-1.5zM698.67 269.82h1.5v1.5h-1.5zM698.67 275.96h1.5v1.5h-1.5zM698.67 282.11h1.5v1.5h-1.5zM698.67 288.25h1.5v1.5h-1.5z"/>
</g>
<g clip-path="url(#cd)">
<path fill="#0c0c0c" d="M128.3 268.39h1.3v1.3h-1.3zM128.3 274.53h1.3v1.3h-1.3zM128.3 280.67h1.3v1.3h-1.3zM128.3 286.81h1.3v1.3h-1.3zM131.35 271.46h1.3v1.3h-1.3zM131.35 277.6h1.3v1.3h-1.3zM131.35 283.74h1.3v1.3h-1.3zM131.35 289.88h1.3v1.3h-1.3zM134.41 268.39h1.3v1.3h-1.3zM134.41 274.53h1.3v1.3h-1.3zM134.41 280.67h1.3v1.3h-1.3zM134.41 286.81h1.3v1.3h-1.3zM137.47 271.46h1.3v1.3h-1.3zM137.47 277.6h1.3v1.3h-1.3zM137.47 283.74h1.3v1.3h-1.3zM137.47 289.88h1.3v1.3h-1.3zM140.53 268.39h1.3v1.3h-1.3zM140.53 274.53h1.3v1.3h-1.3zM140.53 280.67h1.3v1.3h-1.3zM140.53 286.81h1.3v1.3h-1.3zM143.59 271.46h1.3v1.3h-1.3zM143.59 277.6h1.3v1.3h-1.3zM143.59 283.74h1.3v1.3h-1.3zM143.59 289.88h1.3v1.3h-1.3zM146.64 268.39h1.3v1.3h-1.3zM146.64 274.53h1.3v1.3h-1.3zM146.64 280.67h1.3v1.3h-1.3zM146.64 286.81h1.3v1.3h-1.3zM149.7 271.46h1.3v1.3h-1.3zM149.7 277.6h1.3v1.3h-1.3zM149.7 283.74h1.3v1.3h-1.3zM149.7 289.88h1.3v1.3h-1.3zM152.76 268.39h1.3v1.3h-1.3zM152.76 274.53h1.3v1.3h-1.3zM152.76 280.67h1.3v1.3h-1.3zM152.76 286.81h1.3v1.3h-1.3zM235.33 124.1h1.3v1.3h-1.3zM235.33 130.24h1.3v1.3h-1.3zM235.33 136.38h1.3v1.3h-1.3zM235.33 142.52h1.3v1.3h-1.3zM235.33 148.66h1.3v1.3h-1.3zM235.33 154.8h1.3v1.3h-1.3zM235.33 160.94h1.3v1.3h-1.3zM235.33 167.08h1.3v1.3h-1.3zM235.33 173.22h1.3v1.3h-1.3zM235.33 179.36h1.3v1.3h-1.3zM235.33 185.5h1.3v1.3h-1.3zM235.33 191.64h1.3v1.3h-1.3zM235.33 197.78h1.3v1.3h-1.3zM235.33 203.92h1.3v1.3h-1.3zM235.33 210.06h1.3v1.3h-1.3zM235.33 216.2h1.3v1.3h-1.3zM235.33 222.34h1.3v1.3h-1.3zM235.33 228.48h1.3v1.3h-1.3zM235.33 234.62h1.3v1.3h-1.3zM235.33 240.76h1.3v1.3h-1.3zM235.33 246.9h1.3v1.3h-1.3zM235.33 253.04h1.3v1.3h-1.3zM235.33 259.18h1.3v1.3h-1.3zM235.33 265.32h1.3v1.3h-1.3zM235.33 271.46h1.3v1.3h-1.3zM235.33 277.6h1.3v1.3h-1.3zM235.33 283.74h1.3v1.3h-1.3zM235.33 289.88h1.3v1.3h-1.3zM238.38 127.17h1.3v1.3h-1.3zM238.38 133.31h1.3v1.3h-1.3zM238.38 139.45h1.3v1.3h-1.3zM238.38 145.59h1.3v1.3h-1.3zM238.38 151.73h1.3v1.3h-1.3zM238.38 157.87h1.3v1.3h-1.3zM238.38 164.01h1.3v1.3h-1.3zM238.38 170.15h1.3v1.3h-1.3zM238.38 176.29h1.3v1.3h-1.3zM238.38 182.43h1.3v1.3h-1.3zM238.38 188.57h1.3v1.3h-1.3zM238.38 194.71h1.3v1.3h-1.3zM238.38 200.85h1.3v1.3h-1.3zM238.38 206.99h1.3v1.3h-1.3zM238.38 213.13h1.3v1.3h-1.3zM238.38 219.27h1.3v1.3h-1.3zM238.38 225.41h1.3v1.3h-1.3zM238.38 231.55h1.3v1.3h-1.3zM238.38 237.69h1.3v1.3h-1.3zM238.38 243.83h1.3v1.3h-1.3zM238.38 249.97h1.3v1.3h-1.3zM238.38 256.11h1.3v1.3h-1.3zM238.38 262.25h1.3v1.3h-1.3zM238.38 268.39h1.3v1.3h-1.3zM238.38 274.53h1.3v1.3h-1.3zM238.38 280.67h1.3v1.3h-1.3zM238.38 286.81h1.3v1.3h-1.3zM241.44 124.1h1.3v1.3h-1.3zM241.44 130.24h1.3v1.3h-1.3zM241.44 136.38h1.3v1.3h-1.3zM241.44 142.52h1.3v1.3h-1.3zM241.44 148.66h1.3v1.3h-1.3zM241.44 154.8h1.3v1.3h-1.3zM241.44 160.94h1.3v1.3h-1.3zM241.44 167.08h1.3v1.3h-1.3zM241.44 173.22h1.3v1.3h-1.3zM241.44 179.36h1.3v1.3h-1.3zM241.44 185.5h1.3v1.3h-1.3zM241.44 191.64h1.3v1.3h-1.3zM241.44 197.78h1.3v1.3h-1.3zM241.44 203.92h1.3v1.3h-1.3zM241.44 210.06h1.3v1.3h-1.3zM241.44 216.2h1.3v1.3h-1.3zM241.44 222.34h1.3v1.3h-1.3zM241.44 228.48h1.3v1.3h-1.3zM241.44 234.62h1.3v1.3h-1.3zM241.44 240.76h1.3v1.3h-1.3zM241.44 246.9h1.3v1.3h-1.3zM241.44 253.04h1.3v1.3h-1.3zM241.44 259.18h1.3v1.3h-1.3zM241.44 265.32h1.3v1.3h-1.3zM241.44 271.46h1.3v1.3h-1.3zM241.44 277.6h1.3v1.3h-1.3zM241.44 283.74h1.3v1.3h-1.3zM241.44 289.88h1.3v1.3h-1.3zM244.5 127.17h1.3v1.3h-1.3zM244.5 133.31h1.3v1.3h-1.3zM244.5 139.45h1.3v1.3h-1.3zM244.5 145.59h1.3v1.3h-1.3zM244.5 151.73h1.3v1.3h-1.3zM244.5 157.87h1.3v1.3h-1.3zM244.5 164.01h1.3v1.3h-1.3zM244.5 170.15h1.3v1.3h-1.3zM244.5 176.29h1.3v1.3h-1.3zM244.5 182.43h1.3v1.3h-1.3zM244.5 188.57h1.3v1.3h-1.3zM244.5 194.71h1.3v1.3h-1.3zM244.5 200.85h1.3v1.3h-1.3zM244.5 206.99h1.3v1.3h-1.3zM244.5 213.13h1.3v1.3h-1.3zM244.5 219.27h1.3v1.3h-1.3zM244.5 225.41h1.3v1.3h-1.3zM244.5 231.55h1.3v1.3h-1.3zM244.5 237.69h1.3v1.3h-1.3zM244.5 243.83h1.3v1.3h-1.3zM244.5 249.97h1.3v1.3h-1.3zM244.5 256.11h1.3v1.3h-1.3zM244.5 262.25h1.3v1.3h-1.3zM244.5 268.39h1.3v1.3h-1.3zM244.5 274.53h1.3v1.3h-1.3zM244.5 280.67h1.3v1.3h-1.3zM244.5 286.81h1.3v1.3h-1.3zM247.56 124.1h1.3v1.3h-1.3zM247.56 130.24h1.3v1.3h-1.3zM247.56 136.38h1.3v1.3h-1.3zM247.56 142.52h1.3v1.3h-1.3zM247.56 148.66h1.3v1.3h-1.3zM247.56 154.8h1.3v1.3h-1.3zM247.56 160.94h1.3v1.3h-1.3zM247.56 167.08h1.3v1.3h-1.3zM247.56 173.22h1.3v1.3h-1.3zM247.56 179.36h1.3v1.3h-1.3zM247.56 185.5h1.3v1.3h-1.3zM247.56 191.64h1.3v1.3h-1.3zM247.56 197.78h1.3v1.3h-1.3zM247.56 203.92h1.3v1.3h-1.3zM247.56 210.06h1.3v1.3h-1.3zM247.56 216.2h1.3v1.3h-1.3zM247.56 222.34h1.3v1.3h-1.3zM247.56 228.48h1.3v1.3h-1.3zM247.56 234.62h1.3v1.3h-1.3zM247.56 240.76h1.3v1.3h-1.3zM247.56 246.9h1.3v1.3h-1.3zM247.56 253.04h1.3v1.3h-1.3zM247.56 259.18h1.3v1.3h-1.3zM247.56 265.32h1.3v1.3h-1.3zM247.56 271.46h1.3v1.3h-1.3zM247.56 277.6h1.3v1.3h-1.3zM247.56 283.74h1.3v1.3h-1.3zM247.56 289.88h1.3v1.3h-1.3zM250.62 127.17h1.3v1.3h-1.3zM250.62 133.31h1.3v1.3h-1.3zM250.62 139.45h1.3v1.3h-1.3zM250.62 145.59h1.3v1.3h-1.3zM250.62 151.73h1.3v1.3h-1.3zM250.62 157.87h1.3v1.3h-1.3zM250.62 164.01h1.3v1.3h-1.3zM250.62 170.15h1.3v1.3h-1.3zM250.62 176.29h1.3v1.3h-1.3zM250.62 182.43h1.3v1.3h-1.3zM250.62 188.57h1.3v1.3h-1.3zM250.62 194.71h1.3v1.3h-1.3zM250.62 200.85h1.3v1.3h-1.3zM250.62 206.99h1.3v1.3h-1.3zM250.62 213.13h1.3v1.3h-1.3zM250.62 219.27h1.3v1.3h-1.3zM250.62 225.41h1.3v1.3h-1.3zM250.62 231.55h1.3v1.3h-1.3zM250.62 237.69h1.3v1.3h-1.3zM250.62 243.83h1.3v1.3h-1.3zM250.62 249.97h1.3v1.3h-1.3zM250.62 256.11h1.3v1.3h-1.3zM250.62 262.25h1.3v1.3h-1.3zM250.62 268.39h1.3v1.3h-1.3zM250.62 274.53h1.3v1.3h-1.3zM250.62 280.67h1.3v1.3h-1.3zM250.62 286.81h1.3v1.3h-1.3zM253.67 124.1h1.3v1.3h-1.3zM253.67 130.24h1.3v1.3h-1.3zM253.67 136.38h1.3v1.3h-1.3zM253.67 142.52h1.3v1.3h-1.3zM253.67 148.66h1.3v1.3h-1.3zM253.67 154.8h1.3v1.3h-1.3zM253.67 160.94h1.3v1.3h-1.3zM253.67 167.08h1.3v1.3h-1.3zM253.67 173.22h1.3v1.3h-1.3zM253.67 179.36h1.3v1.3h-1.3zM253.67 185.5h1.3v1.3h-1.3zM253.67 191.64h1.3v1.3h-1.3zM253.67 197.78h1.3v1.3h-1.3zM253.67 203.92h1.3v1.3h-1.3zM253.67 210.06h1.3v1.3h-1.3zM253.67 216.2h1.3v1.3h-1.3zM253.67 222.34h1.3v1.3h-1.3zM253.67 228.48h1.3v1.3h-1.3zM253.67 234.62h1.3v1.3h-1.3zM253.67 240.76h1.3v1.3h-1.3zM253.67 246.9h1.3v1.3h-1.3zM253.67 253.04h1.3v1.3h-1.3zM253.67 259.18h1.3v1.3h-1.3zM253.67 265.32h1.3v1.3h-1.3zM253.67 271.46h1.3v1.3h-1.3zM253.67 277.6h1.3v1.3h-1.3zM253.67 283.74h1.3v1.3h-1.3zM253.67 289.88h1.3v1.3h-1.3zM256.73 127.17h1.3v1.3h-1.3zM256.73 133.31h1.3v1.3h-1.3zM256.73 139.45h1.3v1.3h-1.3zM256.73 145.59h1.3v1.3h-1.3zM256.73 151.73h1.3v1.3h-1.3zM256.73 157.87h1.3v1.3h-1.3zM256.73 164.01h1.3v1.3h-1.3zM256.73 170.15h1.3v1.3h-1.3zM256.73 176.29h1.3v1.3h-1.3zM256.73 182.43h1.3v1.3h-1.3zM256.73 188.57h1.3v1.3h-1.3zM256.73 194.71h1.3v1.3h-1.3zM256.73 200.85h1.3v1.3h-1.3zM256.73 206.99h1.3v1.3h-1.3zM256.73 213.13h1.3v1.3h-1.3zM256.73 219.27h1.3v1.3h-1.3zM256.73 225.41h1.3v1.3h-1.3zM256.73 231.55h1.3v1.3h-1.3zM256.73 237.69h1.3v1.3h-1.3zM256.73 243.83h1.3v1.3h-1.3zM256.73 249.97h1.3v1.3h-1.3zM256.73 256.11h1.3v1.3h-1.3zM256.73 262.25h1.3v1.3h-1.3zM256.73 268.39h1.3v1.3h-1.3zM256.73 274.53h1.3v1.3h-1.3zM256.73 280.67h1.3v1.3h-1.3zM256.73 286.81h1.3v1.3h-1.3zM259.79 124.1h1.3v1.3h-1.3zM259.79 130.24h1.3v1.3h-1.3zM259.79 136.38h1.3v1.3h-1.3zM259.79 142.52h1.3v1.3h-1.3zM259.79 148.66h1.3v1.3h-1.3zM259.79 154.8h1.3v1.3h-1.3zM259.79 160.94h1.3v1.3h-1.3zM259.79 167.08h1.3v1.3h-1.3zM259.79 173.22h1.3v1.3h-1.3zM259.79 179.36h1.3v1.3h-1.3zM259.79 185.5h1.3v1.3h-1.3zM259.79 191.64h1.3v1.3h-1.3zM259.79 197.78h1.3v1.3h-1.3zM259.79 203.92h1.3v1.3h-1.3zM259.79 210.06h1.3v1.3h-1.3zM259.79 216.2h1.3v1.3h-1.3zM259.79 222.34h1.3v1.3h-1.3zM259.79 228.48h1.3v1.3h-1.3zM259.79 234.62h1.3v1.3h-1.3zM259.79 240.76h1.3v1.3h-1.3zM259.79 246.9h1.3v1.3h-1.3zM259.79 253.04h1.3v1.3h-1.3zM259.79 259.18h1.3v1.3h-1.3zM259.79 265.32h1.3v1.3h-1.3zM259.79 271.46h1.3v1.3h-1.3zM259.79 277.6h1.3v1.3h-1.3zM259.79 283.74h1.3v1.3h-1.3zM259.79 289.88h1.3v1.3h-1.3zM342.36 188.57h1.3v1.3h-1.3zM342.36 194.71h1.3v1.3h-1.3zM342.36 200.85h1.3v1.3h-1.3zM342.36 206.99h1.3v1.3h-1.3zM342.36 213.13h1.3v1.3h-1.3zM342.36 219.27h1.3v1.3h-1.3zM342.36 225.41h1.3v1.3h-1.3zM342.36 231.55h1.3v1.3h-1.3zM342.36 237.69h1.3v1.3h-1.3zM342.36 243.83h1.3v1.3h-1.3zM342.36 249.97h1.3v1.3h-1.3zM342.36 256.11h1.3v1.3h-1.3zM342.36 262.25h1.3v1.3h-1.3zM342.36 268.39h1.3v1.3h-1.3zM342.36 274.53h1.3v1.3h-1.3zM342.36 280.67h1.3v1.3h-1.3zM342.36 286.81h1.3v1.3h-1.3zM345.41 185.5h1.3v1.3h-1.3zM345.41 191.64h1.3v1.3h-1.3zM345.41 197.78h1.3v1.3h-1.3zM345.41 203.92h1.3v1.3h-1.3zM345.41 210.06h1.3v1.3h-1.3zM345.41 216.2h1.3v1.3h-1.3zM345.41 222.34h1.3v1.3h-1.3zM345.41 228.48h1.3v1.3h-1.3zM345.41 234.62h1.3v1.3h-1.3zM345.41 240.76h1.3v1.3h-1.3zM345.41 246.9h1.3v1.3h-1.3zM345.41 253.04h1.3v1.3h-1.3zM345.41 259.18h1.3v1.3h-1.3zM345.41 265.32h1.3v1.3h-1.3zM345.41 271.46h1.3v1.3h-1.3zM345.41 277.6h1.3v1.3h-1.3zM345.41 283.74h1.3v1.3h-1.3zM345.41 289.88h1.3v1.3h-1.3zM348.47 188.57h1.3v1.3h-1.3zM348.47 194.71h1.3v1.3h-1.3zM348.47 200.85h1.3v1.3h-1.3zM348.47 206.99h1.3v1.3h-1.3zM348.47 213.13h1.3v1.3h-1.3zM348.47 219.27h1.3v1.3h-1.3zM348.47 225.41h1.3v1.3h-1.3zM348.47 231.55h1.3v1.3h-1.3zM348.47 237.69h1.3v1.3h-1.3zM348.47 243.83h1.3v1.3h-1.3zM348.47 249.97h1.3v1.3h-1.3zM348.47 256.11h1.3v1.3h-1.3zM348.47 262.25h1.3v1.3h-1.3zM348.47 268.39h1.3v1.3h-1.3zM348.47 274.53h1.3v1.3h-1.3zM348.47 280.67h1.3v1.3h-1.3zM348.47 286.81h1.3v1.3h-1.3zM351.53 185.5h1.3v1.3h-1.3zM351.53 191.64h1.3v1.3h-1.3zM351.53 197.78h1.3v1.3h-1.3zM351.53 203.92h1.3v1.3h-1.3zM351.53 210.06h1.3v1.3h-1.3zM351.53 216.2h1.3v1.3h-1.3zM351.53 222.34h1.3v1.3h-1.3zM351.53 228.48h1.3v1.3h-1.3zM351.53 234.62h1.3v1.3h-1.3zM351.53 240.76h1.3v1.3h-1.3zM351.53 246.9h1.3v1.3h-1.3zM351.53 253.04h1.3v1.3h-1.3zM351.53 259.18h1.3v1.3h-1.3zM351.53 265.32h1.3v1.3h-1.3zM351.53 271.46h1.3v1.3h-1.3zM351.53 277.6h1.3v1.3h-1.3zM351.53 283.74h1.3v1.3h-1.3zM351.53 289.88h1.3v1.3h-1.3zM354.59 188.57h1.3v1.3h-1.3zM354.59 194.71h1.3v1.3h-1.3zM354.59 200.85h1.3v1.3h-1.3zM354.59 206.99h1.3v1.3h-1.3zM354.59 213.13h1.3v1.3h-1.3zM354.59 219.27h1.3v1.3h-1.3zM354.59 225.41h1.3v1.3h-1.3zM354.59 231.55h1.3v1.3h-1.3zM354.59 237.69h1.3v1.3h-1.3zM354.59 243.83h1.3v1.3h-1.3zM354.59 249.97h1.3v1.3h-1.3zM354.59 256.11h1.3v1.3h-1.3zM354.59 262.25h1.3v1.3h-1.3zM354.59 268.39h1.3v1.3h-1.3zM354.59 274.53h1.3v1.3h-1.3zM354.59 280.67h1.3v1.3h-1.3zM354.59 286.81h1.3v1.3h-1.3zM357.65 185.5h1.3v1.3h-1.3zM357.65 191.64h1.3v1.3h-1.3zM357.65 197.78h1.3v1.3h-1.3zM357.65 203.92h1.3v1.3h-1.3zM357.65 210.06h1.3v1.3h-1.3zM357.65 216.2h1.3v1.3h-1.3zM357.65 222.34h1.3v1.3h-1.3zM357.65 228.48h1.3v1.3h-1.3zM357.65 234.62h1.3v1.3h-1.3zM357.65 240.76h1.3v1.3h-1.3zM357.65 246.9h1.3v1.3h-1.3zM357.65 253.04h1.3v1.3h-1.3zM357.65 259.18h1.3v1.3h-1.3zM357.65 265.32h1.3v1.3h-1.3zM357.65 271.46h1.3v1.3h-1.3zM357.65 277.6h1.3v1.3h-1.3zM357.65 283.74h1.3v1.3h-1.3zM357.65 289.88h1.3v1.3h-1.3zM360.7 188.57h1.3v1.3h-1.3zM360.7 194.71h1.3v1.3h-1.3zM360.7 200.85h1.3v1.3h-1.3zM360.7 206.99h1.3v1.3h-1.3zM360.7 213.13h1.3v1.3h-1.3zM360.7 219.27h1.3v1.3h-1.3zM360.7 225.41h1.3v1.3h-1.3zM360.7 231.55h1.3v1.3h-1.3zM360.7 237.69h1.3v1.3h-1.3zM360.7 243.83h1.3v1.3h-1.3zM360.7 249.97h1.3v1.3h-1.3zM360.7 256.11h1.3v1.3h-1.3zM360.7 262.25h1.3v1.3h-1.3zM360.7 268.39h1.3v1.3h-1.3zM360.7 274.53h1.3v1.3h-1.3zM360.7 280.67h1.3v1.3h-1.3zM360.7 286.81h1.3v1.3h-1.3zM363.76 185.5h1.3v1.3h-1.3zM363.76 191.64h1.3v1.3h-1.3zM363.76 197.78h1.3v1.3h-1.3zM363.76 203.92h1.3v1.3h-1.3zM363.76 210.06h1.3v1.3h-1.3zM363.76 216.2h1.3v1.3h-1.3zM363.76 222.34h1.3v1.3h-1.3zM363.76 228.48h1.3v1.3h-1.3zM363.76 234.62h1.3v1.3h-1.3zM363.76 240.76h1.3v1.3h-1.3zM363.76 246.9h1.3v1.3h-1.3zM363.76 253.04h1.3v1.3h-1.3zM363.76 259.18h1.3v1.3h-1.3zM363.76 265.32h1.3v1.3h-1.3zM363.76 271.46h1.3v1.3h-1.3zM363.76 277.6h1.3v1.3h-1.3zM363.76 283.74h1.3v1.3h-1.3zM363.76 289.88h1.3v1.3h-1.3zM366.82 188.57h1.3v1.3h-1.3zM366.82 194.71h1.3v1.3h-1.3zM366.82 200.85h1.3v1.3h-1.3zM366.82 206.99h1.3v1.3h-1.3zM366.82 213.13h1.3v1.3h-1.3zM366.82 219.27h1.3v1.3h-1.3zM366.82 225.41h1.3v1.3h-1.3zM366.82 231.55h1.3v1.3h-1.3zM366.82 237.69h1.3v1.3h-1.3zM366.82 243.83h1.3v1.3h-1.3zM366.82 249.97h1.3v1.3h-1.3zM366.82 256.11h1.3v1.3h-1.3zM366.82 262.25h1.3v1.3h-1.3zM366.82 268.39h1.3v1.3h-1.3zM366.82 274.53h1.3v1.3h-1.3zM366.82 280.67h1.3v1.3h-1.3zM366.82 286.81h1.3v1.3h-1.3zM458.56 59.63h1.3v1.3h-1.3zM458.56 65.77h1.3v1.3h-1.3zM458.56 71.91h1.3v1.3h-1.3zM461.62 62.7h1.3v1.3h-1.3zM461.62 68.84h1.3v1.3h-1.3zM461.62 74.98h1.3v1.3h-1.3zM464.68 59.63h1.3v1.3h-1.3zM464.68 65.77h1.3v1.3h-1.3zM464.68 71.91h1.3v1.3h-1.3zM467.73 62.7h1.3v1.3h-1.3zM467.73 68.84h1.3v1.3h-1.3zM467.73 74.98h1.3v1.3h-1.3zM470.79 59.63h1.3v1.3h-1.3zM470.79 65.77h1.3v1.3h-1.3zM470.79 71.91h1.3v1.3h-1.3zM473.85 62.7h1.3v1.3h-1.3zM473.85 68.84h1.3v1.3h-1.3zM473.85 74.98h1.3v1.3h-1.3zM476.91 59.63h1.3v1.3h-1.3zM476.91 65.77h1.3v1.3h-1.3zM476.91 71.91h1.3v1.3h-1.3zM479.97 62.7h1.3v1.3h-1.3zM479.97 68.84h1.3v1.3h-1.3zM479.97 74.98h1.3v1.3h-1.3zM483.02 59.63h1.3v1.3h-1.3zM483.02 65.77h1.3v1.3h-1.3zM483.02 71.91h1.3v1.3h-1.3zM486.08 62.7h1.3v1.3h-1.3zM486.08 68.84h1.3v1.3h-1.3zM486.08 74.98h1.3v1.3h-1.3zM489.14 59.63h1.3v1.3h-1.3zM489.14 65.77h1.3v1.3h-1.3zM489.14 71.91h1.3v1.3h-1.3zM492.2 62.7h1.3v1.3h-1.3zM492.2 68.84h1.3v1.3h-1.3zM492.2 74.98h1.3v1.3h-1.3zM495.26 59.63h1.3v1.3h-1.3zM495.26 65.77h1.3v1.3h-1.3zM495.26 71.91h1.3v1.3h-1.3zM498.31 62.7h1.3v1.3h-1.3zM498.31 68.84h1.3v1.3h-1.3zM498.31 74.98h1.3v1.3h-1.3zM498.31 259.18h1.3v1.3h-1.3zM498.31 265.32h1.3v1.3h-1.3zM498.31 271.46h1.3v1.3h-1.3zM498.31 277.6h1.3v1.3h-1.3zM498.31 283.74h1.3v1.3h-1.3zM498.31 289.88h1.3v1.3h-1.3zM501.37 59.63h1.3v1.3h-1.3zM501.37 65.77h1.3v1.3h-1.3zM501.37 71.91h1.3v1.3h-1.3zM501.37 256.11h1.3v1.3h-1.3zM501.37 262.25h1.3v1.3h-1.3zM501.37 268.39h1.3v1.3h-1.3zM501.37 274.53h1.3v1.3h-1.3zM501.37 280.67h1.3v1.3h-1.3zM501.37 286.81h1.3v1.3h-1.3zM504.43 259.18h1.3v1.3h-1.3zM504.43 265.32h1.3v1.3h-1.3zM504.43 271.46h1.3v1.3h-1.3zM504.43 277.6h1.3v1.3h-1.3zM504.43 283.74h1.3v1.3h-1.3zM504.43 289.88h1.3v1.3h-1.3zM507.49 256.11h1.3v1.3h-1.3zM507.49 262.25h1.3v1.3h-1.3zM507.49 268.39h1.3v1.3h-1.3zM507.49 274.53h1.3v1.3h-1.3zM507.49 280.67h1.3v1.3h-1.3zM507.49 286.81h1.3v1.3h-1.3zM510.55 259.18h1.3v1.3h-1.3zM510.55 265.32h1.3v1.3h-1.3zM510.55 271.46h1.3v1.3h-1.3zM510.55 277.6h1.3v1.3h-1.3zM510.55 283.74h1.3v1.3h-1.3zM510.55 289.88h1.3v1.3h-1.3zM513.6 256.11h1.3v1.3h-1.3zM513.6 262.25h1.3v1.3h-1.3zM513.6 268.39h1.3v1.3h-1.3zM513.6 274.53h1.3v1.3h-1.3zM513.6 280.67h1.3v1.3h-1.3zM513.6 286.81h1.3v1.3h-1.3zM516.66 259.18h1.3v1.3h-1.3zM516.66 265.32h1.3v1.3h-1.3zM516.66 271.46h1.3v1.3h-1.3zM516.66 277.6h1.3v1.3h-1.3zM516.66 283.74h1.3v1.3h-1.3zM516.66 289.88h1.3v1.3h-1.3zM519.72 256.11h1.3v1.3h-1.3zM519.72 262.25h1.3v1.3h-1.3zM519.72 268.39h1.3v1.3h-1.3zM519.72 274.53h1.3v1.3h-1.3zM519.72 280.67h1.3v1.3h-1.3zM519.72 286.81h1.3v1.3h-1.3zM522.78 259.18h1.3v1.3h-1.3zM522.78 265.32h1.3v1.3h-1.3zM522.78 271.46h1.3v1.3h-1.3zM522.78 277.6h1.3v1.3h-1.3zM522.78 283.74h1.3v1.3h-1.3zM522.78 289.88h1.3v1.3h-1.3zM605.34 170.15h1.3v1.3h-1.3zM605.34 176.29h1.3v1.3h-1.3zM605.34 182.43h1.3v1.3h-1.3zM605.34 188.57h1.3v1.3h-1.3zM605.34 194.71h1.3v1.3h-1.3zM605.34 200.85h1.3v1.3h-1.3zM605.34 206.99h1.3v1.3h-1.3zM605.34 213.13h1.3v1.3h-1.3zM605.34 219.27h1.3v1.3h-1.3zM605.34 225.41h1.3v1.3h-1.3zM605.34 231.55h1.3v1.3h-1.3zM605.34 237.69h1.3v1.3h-1.3zM605.34 243.83h1.3v1.3h-1.3zM605.34 249.97h1.3v1.3h-1.3zM605.34 256.11h1.3v1.3h-1.3zM605.34 262.25h1.3v1.3h-1.3zM605.34 268.39h1.3v1.3h-1.3zM605.34 274.53h1.3v1.3h-1.3zM605.34 280.67h1.3v1.3h-1.3zM605.34 286.81h1.3v1.3h-1.3zM608.4 167.08h1.3v1.3h-1.3zM608.4 173.22h1.3v1.3h-1.3zM608.4 179.36h1.3v1.3h-1.3zM608.4 185.5h1.3v1.3h-1.3zM608.4 191.64h1.3v1.3h-1.3zM608.4 197.78h1.3v1.3h-1.3zM608.4 203.92h1.3v1.3h-1.3zM608.4 210.06h1.3v1.3h-1.3zM608.4 216.2h1.3v1.3h-1.3zM608.4 222.34h1.3v1.3h-1.3zM608.4 228.48h1.3v1.3h-1.3zM608.4 234.62h1.3v1.3h-1.3zM608.4 240.76h1.3v1.3h-1.3zM608.4 246.9h1.3v1.3h-1.3zM608.4 253.04h1.3v1.3h-1.3zM608.4 259.18h1.3v1.3h-1.3zM608.4 265.32h1.3v1.3h-1.3zM608.4 271.46h1.3v1.3h-1.3zM608.4 277.6h1.3v1.3h-1.3zM608.4 283.74h1.3v1.3h-1.3zM608.4 289.88h1.3v1.3h-1.3zM611.46 170.15h1.3v1.3h-1.3zM611.46 176.29h1.3v1.3h-1.3zM611.46 182.43h1.3v1.3h-1.3zM611.46 188.57h1.3v1.3h-1.3zM611.46 194.71h1.3v1.3h-1.3zM611.46 200.85h1.3v1.3h-1.3zM611.46 206.99h1.3v1.3h-1.3zM611.46 213.13h1.3v1.3h-1.3zM611.46 219.27h1.3v1.3h-1.3zM611.46 225.41h1.3v1.3h-1.3zM611.46 231.55h1.3v1.3h-1.3zM611.46 237.69h1.3v1.3h-1.3zM611.46 243.83h1.3v1.3h-1.3zM611.46 249.97h1.3v1.3h-1.3zM611.46 256.11h1.3v1.3h-1.3zM611.46 262.25h1.3v1.3h-1.3zM611.46 268.39h1.3v1.3h-1.3zM611.46 274.53h1.3v1.3h-1.3zM611.46 280.67h1.3v1.3h-1.3zM611.46 286.81h1.3v1.3h-1.3zM614.52 167.08h1.3v1.3h-1.3zM614.52 173.22h1.3v1.3h-1.3zM614.52 179.36h1.3v1.3h-1.3zM614.52 185.5h1.3v1.3h-1.3zM614.52 191.64h1.3v1.3h-1.3zM614.52 197.78h1.3v1.3h-1.3zM614.52 203.92h1.3v1.3h-1.3zM614.52 210.06h1.3v1.3h-1.3zM614.52 216.2h1.3v1.3h-1.3zM614.52 222.34h1.3v1.3h-1.3zM614.52 228.48h1.3v1.3h-1.3zM614.52 234.62h1.3v1.3h-1.3zM614.52 240.76h1.3v1.3h-1.3zM614.52 246.9h1.3v1.3h-1.3zM614.52 253.04h1.3v1.3h-1.3zM614.52 259.18h1.3v1.3h-1.3zM614.52 265.32h1.3v1.3h-1.3zM614.52 271.46h1.3v1.3h-1.3zM614.52 277.6h1.3v1.3h-1.3zM614.52 283.74h1.3v1.3h-1.3zM614.52 289.88h1.3v1.3h-1.3zM617.58 170.15h1.3v1.3h-1.3zM617.58 176.29h1.3v1.3h-1.3zM617.58 182.43h1.3v1.3h-1.3zM617.58 188.57h1.3v1.3h-1.3zM617.58 194.71h1.3v1.3h-1.3zM617.58 200.85h1.3v1.3h-1.3zM617.58 206.99h1.3v1.3h-1.3zM617.58 213.13h1.3v1.3h-1.3zM617.58 219.27h1.3v1.3h-1.3zM617.58 225.41h1.3v1.3h-1.3zM617.58 231.55h1.3v1.3h-1.3zM617.58 237.69h1.3v1.3h-1.3zM617.58 243.83h1.3v1.3h-1.3zM617.58 249.97h1.3v1.3h-1.3zM617.58 256.11h1.3v1.3h-1.3zM617.58 262.25h1.3v1.3h-1.3zM617.58 268.39h1.3v1.3h-1.3zM617.58 274.53h1.3v1.3h-1.3zM617.58 280.67h1.3v1.3h-1.3zM617.58 286.81h1.3v1.3h-1.3zM620.63 167.08h1.3v1.3h-1.3zM620.63 173.22h1.3v1.3h-1.3zM620.63 179.36h1.3v1.3h-1.3zM620.63 185.5h1.3v1.3h-1.3zM620.63 191.64h1.3v1.3h-1.3zM620.63 197.78h1.3v1.3h-1.3zM620.63 203.92h1.3v1.3h-1.3zM620.63 210.06h1.3v1.3h-1.3zM620.63 216.2h1.3v1.3h-1.3zM620.63 222.34h1.3v1.3h-1.3zM620.63 228.48h1.3v1.3h-1.3zM620.63 234.62h1.3v1.3h-1.3zM620.63 240.76h1.3v1.3h-1.3zM620.63 246.9h1.3v1.3h-1.3zM620.63 253.04h1.3v1.3h-1.3zM620.63 259.18h1.3v1.3h-1.3zM620.63 265.32h1.3v1.3h-1.3zM620.63 271.46h1.3v1.3h-1.3zM620.63 277.6h1.3v1.3h-1.3zM620.63 283.74h1.3v1.3h-1.3zM620.63 289.88h1.3v1.3h-1.3zM623.69 170.15h1.3v1.3h-1.3zM623.69 176.29h1.3v1.3h-1.3zM623.69 182.43h1.3v1.3h-1.3zM623.69 188.57h1.3v1.3h-1.3zM623.69 194.71h1.3v1.3h-1.3zM623.69 200.85h1.3v1.3h-1.3zM623.69 206.99h1.3v1.3h-1.3zM623.69 213.13h1.3v1.3h-1.3zM623.69 219.27h1.3v1.3h-1.3zM623.69 225.41h1.3v1.3h-1.3zM623.69 231.55h1.3v1.3h-1.3zM623.69 237.69h1.3v1.3h-1.3zM623.69 243.83h1.3v1.3h-1.3zM623.69 249.97h1.3v1.3h-1.3zM623.69 256.11h1.3v1.3h-1.3zM623.69 262.25h1.3v1.3h-1.3zM623.69 268.39h1.3v1.3h-1.3zM623.69 274.53h1.3v1.3h-1.3zM623.69 280.67h1.3v1.3h-1.3zM623.69 286.81h1.3v1.3h-1.3zM626.75 167.08h1.3v1.3h-1.3zM626.75 173.22h1.3v1.3h-1.3zM626.75 179.36h1.3v1.3h-1.3zM626.75 185.5h1.3v1.3h-1.3zM626.75 191.64h1.3v1.3h-1.3zM626.75 197.78h1.3v1.3h-1.3zM626.75 203.92h1.3v1.3h-1.3zM626.75 210.06h1.3v1.3h-1.3zM626.75 216.2h1.3v1.3h-1.3zM626.75 222.34h1.3v1.3h-1.3zM626.75 228.48h1.3v1.3h-1.3zM626.75 234.62h1.3v1.3h-1.3zM626.75 240.76h1.3v1.3h-1.3zM626.75 246.9h1.3v1.3h-1.3zM626.75 253.04h1.3v1.3h-1.3zM626.75 259.18h1.3v1.3h-1.3zM626.75 265.32h1.3v1.3h-1.3zM626.75 271.46h1.3v1.3h-1.3zM626.75 277.6h1.3v1.3h-1.3zM626.75 283.74h1.3v1.3h-1.3zM626.75 289.88h1.3v1.3h-1.3zM629.81 170.15h1.3v1.3h-1.3zM629.81 176.29h1.3v1.3h-1.3zM629.81 182.43h1.3v1.3h-1.3zM629.81 188.57h1.3v1.3h-1.3zM629.81 194.71h1.3v1.3h-1.3zM629.81 200.85h1.3v1.3h-1.3zM629.81 206.99h1.3v1.3h-1.3zM629.81 213.13h1.3v1.3h-1.3zM629.81 219.27h1.3v1.3h-1.3zM629.81 225.41h1.3v1.3h-1.3zM629.81 231.55h1.3v1.3h-1.3zM629.81 237.69h1.3v1.3h-1.3zM629.81 243.83h1.3v1.3h-1.3zM629.81 249.97h1.3v1.3h-1.3zM629.81 256.11h1.3v1.3h-1.3zM629.81 262.25h1.3v1.3h-1.3zM629.81 268.39h1.3v1.3h-1.3zM629.81 274.53h1.3v1.3h-1.3zM629.81 280.67h1.3v1.3h-1.3zM629.81 286.81h1.3v1.3h-1.3zM712.37 173.22h1.3v1.3h-1.3zM712.37 179.36h1.3v1.3h-1.3zM712.37 185.5h1.3v1.3h-1.3zM712.37 191.64h1.3v1.3h-1.3zM712.37 197.78h1.3v1.3h-1.3zM712.37 203.92h1.3v1.3h-1.3zM712.37 210.06h1.3v1.3h-1.3zM712.37 216.2h1.3v1.3h-1.3zM712.37 222.34h1.3v1.3h-1.3zM712.37 228.48h1.3v1.3h-1.3zM712.37 234.62h1.3v1.3h-1.3zM712.37 240.76h1.3v1.3h-1.3zM712.37 246.9h1.3v1.3h-1.3zM712.37 253.04h1.3v1.3h-1.3zM712.37 259.18h1.3v1.3h-1.3zM712.37 265.32h1.3v1.3h-1.3zM712.37 271.46h1.3v1.3h-1.3zM712.37 277.6h1.3v1.3h-1.3zM712.37 283.74h1.3v1.3h-1.3zM712.37 289.88h1.3v1.3h-1.3zM715.43 176.29h1.3v1.3h-1.3zM715.43 182.43h1.3v1.3h-1.3zM715.43 188.57h1.3v1.3h-1.3zM715.43 194.71h1.3v1.3h-1.3zM715.43 200.85h1.3v1.3h-1.3zM715.43 206.99h1.3v1.3h-1.3zM715.43 213.13h1.3v1.3h-1.3zM715.43 219.27h1.3v1.3h-1.3zM715.43 225.41h1.3v1.3h-1.3zM715.43 231.55h1.3v1.3h-1.3zM715.43 237.69h1.3v1.3h-1.3zM715.43 243.83h1.3v1.3h-1.3zM715.43 249.97h1.3v1.3h-1.3zM715.43 256.11h1.3v1.3h-1.3zM715.43 262.25h1.3v1.3h-1.3zM715.43 268.39h1.3v1.3h-1.3zM715.43 274.53h1.3v1.3h-1.3zM715.43 280.67h1.3v1.3h-1.3zM715.43 286.81h1.3v1.3h-1.3zM718.49 173.22h1.3v1.3h-1.3zM718.49 179.36h1.3v1.3h-1.3zM718.49 185.5h1.3v1.3h-1.3zM718.49 191.64h1.3v1.3h-1.3zM718.49 197.78h1.3v1.3h-1.3zM718.49 203.92h1.3v1.3h-1.3zM718.49 210.06h1.3v1.3h-1.3zM718.49 216.2h1.3v1.3h-1.3zM718.49 222.34h1.3v1.3h-1.3zM718.49 228.48h1.3v1.3h-1.3zM718.49 234.62h1.3v1.3h-1.3zM718.49 240.76h1.3v1.3h-1.3zM718.49 246.9h1.3v1.3h-1.3zM718.49 253.04h1.3v1.3h-1.3zM718.49 259.18h1.3v1.3h-1.3zM718.49 265.32h1.3v1.3h-1.3zM718.49 271.46h1.3v1.3h-1.3zM718.49 277.6h1.3v1.3h-1.3zM718.49 283.74h1.3v1.3h-1.3zM718.49 289.88h1.3v1.3h-1.3zM721.55 176.29h1.3v1.3h-1.3zM721.55 182.43h1.3v1.3h-1.3zM721.55 188.57h1.3v1.3h-1.3zM721.55 194.71h1.3v1.3h-1.3zM721.55 200.85h1.3v1.3h-1.3zM721.55 206.99h1.3v1.3h-1.3zM721.55 213.13h1.3v1.3h-1.3zM721.55 219.27h1.3v1.3h-1.3zM721.55 225.41h1.3v1.3h-1.3zM721.55 231.55h1.3v1.3h-1.3zM721.55 237.69h1.3v1.3h-1.3zM721.55 243.83h1.3v1.3h-1.3zM721.55 249.97h1.3v1.3h-1.3zM721.55 256.11h1.3v1.3h-1.3zM721.55 262.25h1.3v1.3h-1.3zM721.55 268.39h1.3v1.3h-1.3zM721.55 274.53h1.3v1.3h-1.3zM721.55 280.67h1.3v1.3h-1.3zM721.55 286.81h1.3v1.3h-1.3zM724.61 173.22h1.3v1.3h-1.3zM724.61 179.36h1.3v1.3h-1.3zM724.61 185.5h1.3v1.3h-1.3zM724.61 191.64h1.3v1.3h-1.3zM724.61 197.78h1.3v1.3h-1.3zM724.61 203.92h1.3v1.3h-1.3zM724.61 210.06h1.3v1.3h-1.3zM724.61 216.2h1.3v1.3h-1.3zM724.61 222.34h1.3v1.3h-1.3zM724.61 228.48h1.3v1.3h-1.3zM724.61 234.62h1.3v1.3h-1.3zM724.61 240.76h1.3v1.3h-1.3zM724.61 246.9h1.3v1.3h-1.3zM724.61 253.04h1.3v1.3h-1.3zM724.61 259.18h1.3v1.3h-1.3zM724.61 265.32h1.3v1.3h-1.3zM724.61 271.46h1.3v1.3h-1.3zM724.61 277.6h1.3v1.3h-1.3zM724.61 283.74h1.3v1.3h-1.3zM724.61 289.88h1.3v1.3h-1.3zM727.66 176.29h1.3v1.3h-1.3zM727.66 182.43h1.3v1.3h-1.3zM727.66 188.57h1.3v1.3h-1.3zM727.66 194.71h1.3v1.3h-1.3zM727.66 200.85h1.3v1.3h-1.3zM727.66 206.99h1.3v1.3h-1.3zM727.66 213.13h1.3v1.3h-1.3zM727.66 219.27h1.3v1.3h-1.3zM727.66 225.41h1.3v1.3h-1.3zM727.66 231.55h1.3v1.3h-1.3zM727.66 237.69h1.3v1.3h-1.3zM727.66 243.83h1.3v1.3h-1.3zM727.66 249.97h1.3v1.3h-1.3zM727.66 256.11h1.3v1.3h-1.3zM727.66 262.25h1.3v1.3h-1.3zM727.66 268.39h1.3v1.3h-1.3zM727.66 274.53h1.3v1.3h-1.3zM727.66 280.67h1.3v1.3h-1.3zM727.66 286.81h1.3v1.3h-1.3zM730.72 173.22h1.3v1.3h-1.3zM730.72 179.36h1.3v1.3h-1.3zM730.72 185.5h1.3v1.3h-1.3zM730.72 191.64h1.3v1.3h-1.3zM730.72 197.78h1.3v1.3h-1.3zM730.72 203.92h1.3v1.3h-1.3zM730.72 210.06h1.3v1.3h-1.3zM730.72 216.2h1.3v1.3h-1.3zM730.72 222.34h1.3v1.3h-1.3zM730.72 228.48h1.3v1.3h-1.3zM730.72 234.62h1.3v1.3h-1.3zM730.72 240.76h1.3v1.3h-1.3zM730.72 246.9h1.3v1.3h-1.3zM730.72 253.04h1.3v1.3h-1.3zM730.72 259.18h1.3v1.3h-1.3zM730.72 265.32h1.3v1.3h-1.3zM730.72 271.46h1.3v1.3h-1.3zM730.72 277.6h1.3v1.3h-1.3zM730.72 283.74h1.3v1.3h-1.3zM730.72 289.88h1.3v1.3h-1.3zM733.78 176.29h1.3v1.3h-1.3zM733.78 182.43h1.3v1.3h-1.3zM733.78 188.57h1.3v1.3h-1.3zM733.78 194.71h1.3v1.3h-1.3zM733.78 200.85h1.3v1.3h-1.3zM733.78 206.99h1.3v1.3h-1.3zM733.78 213.13h1.3v1.3h-1.3zM733.78 219.27h1.3v1.3h-1.3zM733.78 225.41h1.3v1.3h-1.3zM733.78 231.55h1.3v1.3h-1.3zM733.78 237.69h1.3v1.3h-1.3zM733.78 243.83h1.3v1.3h-1.3zM733.78 249.97h1.3v1.3h-1.3zM733.78 256.11h1.3v1.3h-1.3zM733.78 262.25h1.3v1.3h-1.3zM733.78 268.39h1.3v1.3h-1.3zM733.78 274.53h1.3v1.3h-1.3zM733.78 280.67h1.3v1.3h-1.3zM733.78 286.81h1.3v1.3h-1.3zM736.84 173.22h1.3v1.3h-1.3zM736.84 179.36h1.3v1.3h-1.3zM736.84 185.5h1.3v1.3h-1.3zM736.84 191.64h1.3v1.3h-1.3zM736.84 197.78h1.3v1.3h-1.3zM736.84 203.92h1.3v1.3h-1.3zM736.84 210.06h1.3v1.3h-1.3zM736.84 216.2h1.3v1.3h-1.3zM736.84 222.34h1.3v1.3h-1.3zM736.84 228.48h1.3v1.3h-1.3zM736.84 234.62h1.3v1.3h-1.3zM736.84 240.76h1.3v1.3h-1.3zM736.84 246.9h1.3v1.3h-1.3zM736.84 253.04h1.3v1.3h-1.3zM736.84 259.18h1.3v1.3h-1.3zM736.84 265.32h1.3v1.3h-1.3zM736.84 271.46h1.3v1.3h-1.3zM736.84 277.6h1.3v1.3h-1.3zM736.84 283.74h1.3v1.3h-1.3zM736.84 289.88h1.3v1.3h-1.3z"/>
</g>
<path d="M74.95 272.70h15.20v12.50h-15.20zM94.95 267.70h15.20v17.50h-15.20zM114.95 276.50h15.20v8.70h-15.20zM134.95 272.70h15.20v12.50h-15.20zM181.45 212.00h15.20v73.20h-15.20zM201.45 148.50h15.20v136.70h-15.20zM221.45 202.50h15.20v82.70h-15.20zM241.45 128.00h15.20v157.20h-15.20zM287.95 79.80h15.20v205.40h-15.20zM307.95 202.50h15.20v82.70h-15.20zM327.95 48.70h15.20v236.50h-15.20zM347.95 190.50h15.20v94.70h-15.20zM443.95 266.00h15.20v20.20h-15.20zM463.95 256.10h15.20v30.10h-15.20zM483.95 250.00h15.20v36.20h-15.20zM503.95 260.10h15.20v26.10h-15.20zM550.45 242.70h15.20v43.50h-15.20zM570.45 198.40h15.20v87.80h-15.20zM590.45 220.00h15.20v66.20h-15.20zM610.45 172.20h15.20v114.00h-15.20zM656.95 124.60h15.20v161.60h-15.20zM676.95 196.70h15.20v89.50h-15.20zM696.95 103.60h15.20v182.60h-15.20zM716.95 178.00h15.20v108.20h-15.20z" stroke="#111" stroke-width="1.5" fill="none" stroke-linejoin="miter"/>
<path d="M463.85 12.15h32.30v7.20h-32.30zM463.85 29.90h32.30v7.20h-32.30zM463.85 47.65h32.30v7.20h-32.30zM463.85 65.40h32.30v7.20h-32.30z" stroke="#111" stroke-width="1.5" fill="none"/>
<path d="M59.50 8.92V285.40M55.20 285.40H379.00M55.20 230.24H59.50M55.20 175.08H59.50M55.20 119.92H59.50M55.20 64.76H59.50M55.20 9.60H59.50M112.75 285.40V289.60M219.25 285.40V289.60M325.75 285.40V289.60M428.30 9.72V286.40M424.00 286.40H747.80M424.00 240.40H428.30M424.00 194.40H428.30M424.00 148.40H428.30M424.00 102.40H428.30M424.00 56.40H428.30M424.00 10.40H428.30M481.55 286.40V290.60M588.05 286.40V290.60M694.55 286.40V290.60" stroke="#111" stroke-width="1.35" fill="none"/>
<text x="47.30" y="291.20" text-anchor="end">0</text>
<text x="47.30" y="236.04" text-anchor="end">10</text>
<text x="47.30" y="180.88" text-anchor="end">20</text>
<text x="47.30" y="125.72" text-anchor="end">30</text>
<text x="47.30" y="70.56" text-anchor="end">40</text>
<text x="47.30" y="15.40" text-anchor="end">50</text>
<text x="112.75" y="311.80" text-anchor="middle">Ck</text>
<text x="179.70" y="311.80" textLength="17.0" lengthAdjust="spacingAndGlyphs">36</text>
<circle cx="200.70" cy="302.10" r="1.45" fill="none" stroke="#111" stroke-width="0.8"/>
<text class="deg" x="201.60" y="312.30">C</text>
<text x="222.30" y="311.80">1.0 h</text>
<text x="286.20" y="311.80" textLength="17.0" lengthAdjust="spacingAndGlyphs">38</text>
<circle cx="307.20" cy="302.10" r="1.45" fill="none" stroke="#111" stroke-width="0.8"/>
<text class="deg" x="308.10" y="312.30">C</text>
<text x="328.80" y="311.80">1.0 h</text>
<text x="84.00" y="242.45" text-anchor="middle">C</text>
<text x="82.60" y="261.35" text-anchor="middle">a</text>
<text x="104.00" y="239.25" text-anchor="middle">C</text>
<text x="102.60" y="258.15" text-anchor="middle">a</text>
<text x="124.00" y="246.75" text-anchor="middle">C</text>
<text x="122.60" y="265.35" text-anchor="middle">a</text>
<text x="144.70" y="242.45" text-anchor="middle">C</text>
<text x="143.30" y="261.65" text-anchor="middle">a</text>
<text x="189.00" y="174.65" text-anchor="middle">B</text>
<text x="189.20" y="193.05" text-anchor="middle">c</text>
<text x="210.20" y="113.35" text-anchor="middle">A</text>
<text x="209.00" y="131.25" text-anchor="middle">ab</text>
<text x="230.00" y="167.45" text-anchor="middle">B</text>
<text x="230.30" y="186.15" text-anchor="middle">bc</text>
<text x="250.40" y="87.95" text-anchor="middle">A</text>
<text x="250.00" y="106.05" text-anchor="middle">a</text>
<text x="296.50" y="38.95" text-anchor="middle">A</text>
<text x="295.60" y="57.35" text-anchor="middle">a</text>
<text x="316.80" y="169.05" text-anchor="middle">B</text>
<text x="317.20" y="186.95" text-anchor="middle">b</text>
<text x="336.50" y="13.35" text-anchor="middle">A</text>
<text x="336.20" y="31.45" text-anchor="middle">a</text>
<text x="356.10" y="159.75" text-anchor="middle">B</text>
<text x="356.30" y="178.25" text-anchor="middle">b</text>
<text x="75.70" y="27.25" text-anchor="middle">A</text>
<text transform="translate(13.40 242.20) rotate(-90)" textLength="197.4" lengthAdjust="spacing">hsp70 relative expression</text>
<text x="416.40" y="292.20" text-anchor="end">0</text>
<text x="416.40" y="246.20" text-anchor="end">5</text>
<text x="416.40" y="200.20" text-anchor="end">10</text>
<text x="416.40" y="154.20" text-anchor="end">15</text>
<text x="416.40" y="108.20" text-anchor="end">20</text>
<text x="416.40" y="62.20" text-anchor="end">25</text>
<text x="416.40" y="16.20" text-anchor="end">30</text>
<text x="481.55" y="312.80" text-anchor="middle">Ck</text>
<text x="548.70" y="312.80" textLength="17.0" lengthAdjust="spacingAndGlyphs">36</text>
<circle cx="569.70" cy="303.10" r="1.45" fill="none" stroke="#111" stroke-width="0.8"/>
<text class="deg" x="570.60" y="313.30">C</text>
<text x="591.30" y="312.80">1.0 h</text>
<text x="655.20" y="312.80" textLength="17.0" lengthAdjust="spacingAndGlyphs">38</text>
<circle cx="676.20" cy="303.10" r="1.45" fill="none" stroke="#111" stroke-width="0.8"/>
<text class="deg" x="677.10" y="313.30">C</text>
<text x="697.80" y="312.80">1.0 h</text>
<text x="451.40" y="238.55" text-anchor="middle">C</text>
<text x="451.60" y="256.55" text-anchor="middle">a</text>
<text x="472.20" y="227.65" text-anchor="middle">C</text>
<text x="470.80" y="245.75" text-anchor="middle">a</text>
<text x="493.60" y="211.65" text-anchor="middle">C</text>
<text x="491.80" y="229.75" text-anchor="middle">a</text>
<text x="513.10" y="225.25" text-anchor="middle">C</text>
<text x="511.80" y="243.85" text-anchor="middle">a</text>
<text x="557.70" y="211.25" text-anchor="middle">B</text>
<text x="558.00" y="230.45" text-anchor="middle">c</text>
<text x="579.80" y="163.75" text-anchor="middle">A</text>
<text x="578.80" y="182.15" text-anchor="middle">ab</text>
<text x="599.40" y="184.85" text-anchor="middle">B</text>
<text x="599.80" y="204.05" text-anchor="middle">bc</text>
<text x="618.00" y="138.45" text-anchor="middle">A</text>
<text x="617.80" y="156.55" text-anchor="middle">a</text>
<text x="666.50" y="94.05" text-anchor="middle">A</text>
<text x="666.00" y="112.15" text-anchor="middle">ab</text>
<text x="684.50" y="170.85" text-anchor="middle">A</text>
<text x="683.40" y="189.85" text-anchor="middle">c</text>
<text x="706.00" y="67.65" text-anchor="middle">A</text>
<text x="705.50" y="85.75" text-anchor="middle">a</text>
<text x="725.60" y="134.55" text-anchor="middle">A</text>
<text x="725.40" y="152.45" text-anchor="middle">bc</text>
<text x="448.80" y="21.35" text-anchor="middle">B</text>
<text transform="translate(385.40 247.30) rotate(-90)" textLength="197.4" lengthAdjust="spacing">hsp90 relative expression</text>
<text class="lg" x="504.20" y="20.40">B.odoriphaga female</text>
<text class="lg" x="504.20" y="38.05">B.difformis female</text>
<text class="lg" x="504.20" y="55.70">B.odoriphaga male</text>
<text class="lg" x="504.20" y="73.35">B.difformis male</text>
</svg></body></html>
